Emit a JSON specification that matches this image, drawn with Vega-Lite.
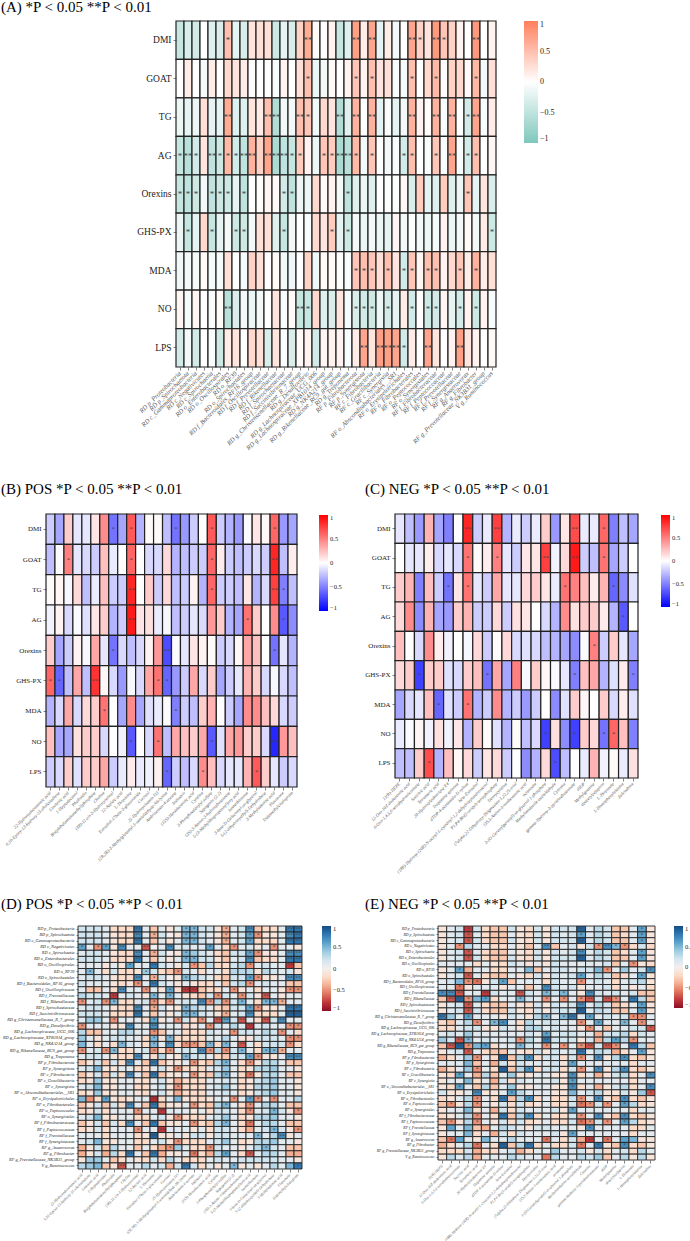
{"$schema":"https://vega.github.io/schema/vega-lite/v6.json","padding":0,"autosize":{"type":"pad"},"background":"white","spacing":0,"params":[{"name":"tax","value":["RD p_Proteobacteria","RD p_Spirochaetota","RD c_Gammaproteobacteria","RD c_Negativicutes","RD c_Spirochaetia","RD o_Enterobacterales","RD o_Oscillospirales","RD o_RF39","RD o_Spirochaetales","RD f_Bacteroidales_RF16_group","RD f_Oscillospiraceae","RD f_Prevotellaceae","RD f_Rikenellaceae","RD f_Spirochaetaceae","RD f_Succinivibrionaceae","RD g_Christensenellaceae_R_7_group","RD g_Desulfovibrio","RD g_Lachnospiraceae_UCG_006","RD g_Lachnospiraceae_XPB1014_group","RD g_NK4A214_group","RD g_Rikenellaceae_RC9_gut_group","RD g_Treponema","RF p_Fibrobacterota","RF p_Synergistota","RF c_Fibrobacteria","RF c_Gracilibacteria","RF c_Synergistia","RF o_Absconditabacteriales__SR1","RF o_Erysipelotrichales","RF o_Fibrobacterales","RF o_Peptococcales","RF o_Synergistales","RF f_Fibrobacteraceae","RF f_Peptococcaceae","RF f_Prevotellaceae","RF f_Synergistaceae","RF g_Anaerovorax","RF g_Fibrobacter","RF g_Prevotellaceae_NK3B31_group","V g_Ruminococcus"]},{"name":"idx","value":["DMI","GOAT","TG","AG","Orexins","GHS-PX","MDA","NO","LPS"]},{"name":"pos","value":["22-Hydroxydocosanoic acid","6,10-Epoxy-13-hydroxy-15-cholestadiene","Linolenic acid","1-Heptadecanol","Phalloidin","Bis(phthalamidomethyl)phosphate","Choline","(3R)-11-cis-3-Hydroxyretinal","12-Azelaic acid","L-Threonine","Estradiol-17beta-3-glucuronide","Cortisol","25-Hydroxyvitamin D3","(2R,3R)-3-Methylglutamyl-5-semialdehyde-N6-lysine","Ambrisentan-4-acetate","Indinavir","(15S)-Hexadecanoic acid","Cytidine","3-Phosphoadenylyl sulfate","Sapogenin (2:2)","(3S)-3-Amino-3-hydroxybutanoate","5-(3-Methylthiopropanoyl)oxy acid","Isomethionone","3-beta-D-Galactosyl-sn-glycerol","5-(2-dihydroxyethyl)-Dehydrobase","3-Methyladenine acid","Flavonone","Didemethylcitalopram"]},{"name":"neg","value":["11(R)-HEPE","12-Oxo-10Z-dodecenoic acid","6-Oxo-1,4,5,6-tetrahydronicotinate","Succinic acid","Tetrameric acid","20-Hydroxyleukotriene E4","Dopamine quinone","dTDP-4-acetamido-D-xylose","beta-Estradiol","(18R)-Hydroxy-(20R)-N-acetyl-L-cysteinyl-1,2-dehydroepiandrosterol","P1,P4-Bis(5-uridyl)-tetraphosphate","Deoxycytidine","(7alpha,22-Dihydroxy-)Stigmastan-1,22,25-triol","(3S,5-Amino-3-oxohexanoic acid","octanoate","3-(O-Geranylgeranyl)-sn-glycerol 1-phosphate","Methylimidazole-acetaldehyde","Cytosine","gamma-Hydroxy-3-pyridinebutanoate","dIDP","Methylguanine","deacetylcefapirin","L-Threonate","L-Homophenylalanine","Zalcitabine"]}],"config":{"font":"Liberation Serif","view":{"stroke":null},"axis":{"labelFont":"Liberation Serif","domain":false,"tickColor":"#333333","tickSize":3,"tickWidth":0.6,"labelColor":"#222222","title":null,"grid":false,"labelPadding":2,"labelOverlap":false,"labelSeparation":0},"title":{"font":"Liberation Serif","fontWeight":"normal","anchor":"start","color":"black","frame":"group","fontSize":15},"legend":{"labelFont":"Liberation Serif","orient":"none","title":null,"gradientStrokeWidth":0,"labelColor":"#222222","labelOffset":1,"labelOverlap":false},"rect":{"stroke":"#222222","strokeWidth":1.2},"text":{"color":"#444444"}},"datasets":{"a":[{"x":0,"y":0,"v":-0.45},{"x":1,"y":0,"v":-0.3},{"x":2,"y":0,"v":-0.35},{"x":3,"y":0,"v":0},{"x":4,"y":0,"v":-0.25},{"x":5,"y":0,"v":-0.3},{"x":6,"y":0,"v":0.5,"s":"*"},{"x":7,"y":0,"v":-0.2},{"x":8,"y":0,"v":-0.3},{"x":9,"y":0,"v":0.2},{"x":10,"y":0,"v":0.25},{"x":11,"y":0,"v":0.25},{"x":12,"y":0,"v":-0.4},{"x":13,"y":0,"v":-0.2},{"x":14,"y":0,"v":-0.3},{"x":15,"y":0,"v":0.35},{"x":16,"y":0,"v":0.65,"s":"**"},{"x":17,"y":0,"v":0.05},{"x":18,"y":0,"v":0.02},{"x":19,"y":0,"v":0.1},{"x":20,"y":0,"v":-0.45},{"x":21,"y":0,"v":-0.25},{"x":22,"y":0,"v":0.75,"s":"**"},{"x":23,"y":0,"v":0.15},{"x":24,"y":0,"v":0.7,"s":"**"},{"x":25,"y":0,"v":-0.2},{"x":26,"y":0,"v":0.15},{"x":27,"y":0,"v":-0.1},{"x":28,"y":0,"v":0},{"x":29,"y":0,"v":0.7,"s":"**"},{"x":30,"y":0,"v":0.35,"s":"*"},{"x":31,"y":0,"v":0.2},{"x":32,"y":0,"v":0.8,"s":"**"},{"x":33,"y":0,"v":0.45,"s":"*"},{"x":34,"y":0,"v":0.35},{"x":35,"y":0,"v":0.1},{"x":36,"y":0,"v":0},{"x":37,"y":0,"v":0.8,"s":"**"},{"x":38,"y":0,"v":0},{"x":39,"y":0,"v":0.1},{"x":0,"y":1,"v":0},{"x":1,"y":1,"v":0.15},{"x":2,"y":1,"v":0},{"x":3,"y":1,"v":-0.08},{"x":4,"y":1,"v":0.15},{"x":5,"y":1,"v":0},{"x":6,"y":1,"v":0.3},{"x":7,"y":1,"v":0.2},{"x":8,"y":1,"v":0.15},{"x":9,"y":1,"v":0.02},{"x":10,"y":1,"v":0},{"x":11,"y":1,"v":0.02},{"x":12,"y":1,"v":-0.05},{"x":13,"y":1,"v":0.1},{"x":14,"y":1,"v":0},{"x":15,"y":1,"v":0.25},{"x":16,"y":1,"v":0.5,"s":"*"},{"x":17,"y":1,"v":-0.15},{"x":18,"y":1,"v":-0.1},{"x":19,"y":1,"v":0.05},{"x":20,"y":1,"v":0},{"x":21,"y":1,"v":0.1},{"x":22,"y":1,"v":0.45,"s":"*"},{"x":23,"y":1,"v":0.1},{"x":24,"y":1,"v":0.5,"s":"*"},{"x":25,"y":1,"v":0.2},{"x":26,"y":1,"v":0.25},{"x":27,"y":1,"v":-0.05},{"x":28,"y":1,"v":-0.08},{"x":29,"y":1,"v":0.5,"s":"*"},{"x":30,"y":1,"v":0},{"x":31,"y":1,"v":0.3},{"x":32,"y":1,"v":0.55,"s":"*"},{"x":33,"y":1,"v":0.03},{"x":34,"y":1,"v":0.35},{"x":35,"y":1,"v":0.3},{"x":36,"y":1,"v":0.05},{"x":37,"y":1,"v":0.55,"s":"*"},{"x":38,"y":1,"v":-0.1},{"x":39,"y":1,"v":0.25},{"x":0,"y":2,"v":-0.15},{"x":1,"y":2,"v":-0.2},{"x":2,"y":2,"v":-0.15},{"x":3,"y":2,"v":0.25},{"x":4,"y":2,"v":-0.2},{"x":5,"y":2,"v":-0.2},{"x":6,"y":2,"v":0.65,"s":"**"},{"x":7,"y":2,"v":-0.25},{"x":8,"y":2,"v":-0.25},{"x":9,"y":2,"v":0.2},{"x":10,"y":2,"v":0.15},{"x":11,"y":2,"v":0.5,"s":"**"},{"x":12,"y":2,"v":-0.6,"s":"**"},{"x":13,"y":2,"v":-0.1},{"x":14,"y":2,"v":-0.1},{"x":15,"y":2,"v":0.5,"s":"**"},{"x":16,"y":2,"v":0.45,"s":"*"},{"x":17,"y":2,"v":-0.1},{"x":18,"y":2,"v":0.3},{"x":19,"y":2,"v":0.2},{"x":20,"y":2,"v":-0.6,"s":"**"},{"x":21,"y":2,"v":-0.25},{"x":22,"y":2,"v":0.6,"s":"**"},{"x":23,"y":2,"v":0},{"x":24,"y":2,"v":0.6,"s":"**"},{"x":25,"y":2,"v":-0.2},{"x":26,"y":2,"v":-0.05},{"x":27,"y":2,"v":-0.2},{"x":28,"y":2,"v":-0.1},{"x":29,"y":2,"v":0.6,"s":"**"},{"x":30,"y":2,"v":0.1},{"x":31,"y":2,"v":0.02},{"x":32,"y":2,"v":0.6,"s":"**"},{"x":33,"y":2,"v":-0.05},{"x":34,"y":2,"v":0.6,"s":"**"},{"x":35,"y":2,"v":0},{"x":36,"y":2,"v":-0.35,"s":"*"},{"x":37,"y":2,"v":0.7,"s":"**"},{"x":38,"y":2,"v":-0.05},{"x":39,"y":2,"v":0.15},{"x":0,"y":3,"v":-0.45,"s":"*"},{"x":1,"y":3,"v":-0.55,"s":"**"},{"x":2,"y":3,"v":-0.35,"s":"*"},{"x":3,"y":3,"v":0.2},{"x":4,"y":3,"v":-0.5,"s":"**"},{"x":5,"y":3,"v":-0.4,"s":"*"},{"x":6,"y":3,"v":0.55,"s":"*"},{"x":7,"y":3,"v":-0.35,"s":"*"},{"x":8,"y":3,"v":-0.5,"s":"**"},{"x":9,"y":3,"v":0.6,"s":"**"},{"x":10,"y":3,"v":0.35},{"x":11,"y":3,"v":0.7,"s":"**"},{"x":12,"y":3,"v":-0.65,"s":"**"},{"x":13,"y":3,"v":-0.5,"s":"**"},{"x":14,"y":3,"v":-0.45,"s":"*"},{"x":15,"y":3,"v":0.4,"s":"*"},{"x":16,"y":3,"v":0.1},{"x":17,"y":3,"v":-0.15},{"x":18,"y":3,"v":0.45,"s":"*"},{"x":19,"y":3,"v":0.4,"s":"*"},{"x":20,"y":3,"v":-0.65,"s":"**"},{"x":21,"y":3,"v":-0.55,"s":"**"},{"x":22,"y":3,"v":0.55,"s":"*"},{"x":23,"y":3,"v":-0.1},{"x":24,"y":3,"v":0.45,"s":"*"},{"x":25,"y":3,"v":0},{"x":26,"y":3,"v":-0.1},{"x":27,"y":3,"v":-0.05},{"x":28,"y":3,"v":-0.35,"s":"*"},{"x":29,"y":3,"v":0.5,"s":"*"},{"x":30,"y":3,"v":0},{"x":31,"y":3,"v":-0.05},{"x":32,"y":3,"v":0.45,"s":"*"},{"x":33,"y":3,"v":-0.05},{"x":34,"y":3,"v":0.7,"s":"**"},{"x":35,"y":3,"v":-0.05},{"x":36,"y":3,"v":-0.35,"s":"*"},{"x":37,"y":3,"v":0.5,"s":"*"},{"x":38,"y":3,"v":0},{"x":39,"y":3,"v":0.08},{"x":0,"y":4,"v":-0.45,"s":"*"},{"x":1,"y":4,"v":-0.5,"s":"*"},{"x":2,"y":4,"v":-0.4,"s":"*"},{"x":3,"y":4,"v":-0.1},{"x":4,"y":4,"v":-0.5,"s":"*"},{"x":5,"y":4,"v":-0.4,"s":"*"},{"x":6,"y":4,"v":-0.4,"s":"*"},{"x":7,"y":4,"v":-0.2},{"x":8,"y":4,"v":-0.5,"s":"*"},{"x":9,"y":4,"v":0},{"x":10,"y":4,"v":0.02},{"x":11,"y":4,"v":0.08},{"x":12,"y":4,"v":0.05},{"x":13,"y":4,"v":-0.35,"s":"*"},{"x":14,"y":4,"v":-0.5,"s":"*"},{"x":15,"y":4,"v":-0.15},{"x":16,"y":4,"v":-0.15},{"x":17,"y":4,"v":0.3},{"x":18,"y":4,"v":0.05},{"x":19,"y":4,"v":0.1},{"x":20,"y":4,"v":-0.1},{"x":21,"y":4,"v":-0.5,"s":"*"},{"x":22,"y":4,"v":-0.25},{"x":23,"y":4,"v":-0.15},{"x":24,"y":4,"v":-0.25},{"x":25,"y":4,"v":0},{"x":26,"y":4,"v":-0.02},{"x":27,"y":4,"v":-0.02},{"x":28,"y":4,"v":0.06},{"x":29,"y":4,"v":-0.3},{"x":30,"y":4,"v":0.4},{"x":31,"y":4,"v":-0.2},{"x":32,"y":4,"v":-0.25},{"x":33,"y":4,"v":0.4},{"x":34,"y":4,"v":-0.25},{"x":35,"y":4,"v":-0.15},{"x":36,"y":4,"v":0.45,"s":"*"},{"x":37,"y":4,"v":-0.2},{"x":38,"y":4,"v":0.2},{"x":39,"y":4,"v":-0.3},{"x":0,"y":5,"v":-0.15},{"x":1,"y":5,"v":-0.45,"s":"*"},{"x":2,"y":5,"v":-0.2},{"x":3,"y":5,"v":0.3},{"x":4,"y":5,"v":-0.45,"s":"*"},{"x":5,"y":5,"v":-0.2},{"x":6,"y":5,"v":-0.1},{"x":7,"y":5,"v":-0.4,"s":"*"},{"x":8,"y":5,"v":-0.4,"s":"*"},{"x":9,"y":5,"v":-0.1},{"x":10,"y":5,"v":0.25},{"x":11,"y":5,"v":0.25},{"x":12,"y":5,"v":-0.25},{"x":13,"y":5,"v":-0.45,"s":"*"},{"x":14,"y":5,"v":-0.1},{"x":15,"y":5,"v":0},{"x":16,"y":5,"v":-0.05},{"x":17,"y":5,"v":0.3},{"x":18,"y":5,"v":0.2},{"x":19,"y":5,"v":0.4,"s":"*"},{"x":20,"y":5,"v":-0.2},{"x":21,"y":5,"v":-0.4,"s":"*"},{"x":22,"y":5,"v":-0.1},{"x":23,"y":5,"v":-0.15},{"x":24,"y":5,"v":-0.1},{"x":25,"y":5,"v":-0.15},{"x":26,"y":5,"v":-0.2},{"x":27,"y":5,"v":0.08},{"x":28,"y":5,"v":-0.1},{"x":29,"y":5,"v":-0.02},{"x":30,"y":5,"v":-0.1},{"x":31,"y":5,"v":-0.15},{"x":32,"y":5,"v":-0.08},{"x":33,"y":5,"v":0.1},{"x":34,"y":5,"v":-0.15},{"x":35,"y":5,"v":-0.1},{"x":36,"y":5,"v":0.05},{"x":37,"y":5,"v":-0.1},{"x":38,"y":5,"v":0.15},{"x":39,"y":5,"v":-0.4,"s":"*"},{"x":0,"y":6,"v":-0.12},{"x":1,"y":6,"v":-0.1},{"x":2,"y":6,"v":-0.08},{"x":3,"y":6,"v":0.05},{"x":4,"y":6,"v":-0.08},{"x":5,"y":6,"v":-0.08},{"x":6,"y":6,"v":0.25},{"x":7,"y":6,"v":0},{"x":8,"y":6,"v":-0.08},{"x":9,"y":6,"v":0.35},{"x":10,"y":6,"v":0.25},{"x":11,"y":6,"v":0.02},{"x":12,"y":6,"v":0.05},{"x":13,"y":6,"v":-0.1},{"x":14,"y":6,"v":-0.12},{"x":15,"y":6,"v":0},{"x":16,"y":6,"v":0.35},{"x":17,"y":6,"v":-0.12},{"x":18,"y":6,"v":0.04},{"x":19,"y":6,"v":0.04},{"x":20,"y":6,"v":0.02},{"x":21,"y":6,"v":-0.05},{"x":22,"y":6,"v":0.45,"s":"*"},{"x":23,"y":6,"v":0.5,"s":"*"},{"x":24,"y":6,"v":0.45,"s":"*"},{"x":25,"y":6,"v":0.25},{"x":26,"y":6,"v":0.5,"s":"*"},{"x":27,"y":6,"v":0.2},{"x":28,"y":6,"v":-0.35,"s":"*"},{"x":29,"y":6,"v":0.45,"s":"*"},{"x":30,"y":6,"v":0.08},{"x":31,"y":6,"v":0.5,"s":"*"},{"x":32,"y":6,"v":0.5,"s":"*"},{"x":33,"y":6,"v":0.1},{"x":34,"y":6,"v":0.3},{"x":35,"y":6,"v":0.45,"s":"*"},{"x":36,"y":6,"v":0.15},{"x":37,"y":6,"v":0.6,"s":"*"},{"x":38,"y":6,"v":0.15},{"x":39,"y":6,"v":0.25},{"x":0,"y":7,"v":0.08},{"x":1,"y":7,"v":-0.08},{"x":2,"y":7,"v":0.08},{"x":3,"y":7,"v":0},{"x":4,"y":7,"v":-0.05},{"x":5,"y":7,"v":0.05},{"x":6,"y":7,"v":-0.55,"s":"**"},{"x":7,"y":7,"v":-0.3},{"x":8,"y":7,"v":-0.1},{"x":9,"y":7,"v":-0.15},{"x":10,"y":7,"v":-0.1},{"x":11,"y":7,"v":0},{"x":12,"y":7,"v":0.2},{"x":13,"y":7,"v":-0.05},{"x":14,"y":7,"v":0.05},{"x":15,"y":7,"v":-0.45,"s":"**"},{"x":16,"y":7,"v":-0.45,"s":"*"},{"x":17,"y":7,"v":0.3},{"x":18,"y":7,"v":-0.25},{"x":19,"y":7,"v":-0.3},{"x":20,"y":7,"v":0.2},{"x":21,"y":7,"v":-0.08},{"x":22,"y":7,"v":-0.3,"s":"*"},{"x":23,"y":7,"v":-0.35,"s":"*"},{"x":24,"y":7,"v":-0.4,"s":"*"},{"x":25,"y":7,"v":-0.15},{"x":26,"y":7,"v":-0.35,"s":"*"},{"x":27,"y":7,"v":-0.2},{"x":28,"y":7,"v":0.15},{"x":29,"y":7,"v":-0.35,"s":"*"},{"x":30,"y":7,"v":0.02},{"x":31,"y":7,"v":-0.4,"s":"*"},{"x":32,"y":7,"v":-0.35,"s":"*"},{"x":33,"y":7,"v":0.08},{"x":34,"y":7,"v":-0.2},{"x":35,"y":7,"v":-0.35,"s":"*"},{"x":36,"y":7,"v":0.1},{"x":37,"y":7,"v":-0.4,"s":"*"},{"x":38,"y":7,"v":0.1},{"x":39,"y":7,"v":-0.05},{"x":0,"y":8,"v":-0.35},{"x":1,"y":8,"v":-0.1},{"x":2,"y":8,"v":-0.35},{"x":3,"y":8,"v":0},{"x":4,"y":8,"v":-0.05},{"x":5,"y":8,"v":-0.4},{"x":6,"y":8,"v":0.15},{"x":7,"y":8,"v":0.2},{"x":8,"y":8,"v":0.02},{"x":9,"y":8,"v":0.3},{"x":10,"y":8,"v":0.25},{"x":11,"y":8,"v":-0.3},{"x":12,"y":8,"v":0.2},{"x":13,"y":8,"v":-0.05},{"x":14,"y":8,"v":-0.3},{"x":15,"y":8,"v":0.05},{"x":16,"y":8,"v":0.1},{"x":17,"y":8,"v":-0.35},{"x":18,"y":8,"v":0.08},{"x":19,"y":8,"v":0.1},{"x":20,"y":8,"v":0.1},{"x":21,"y":8,"v":-0.05},{"x":22,"y":8,"v":0.15},{"x":23,"y":8,"v":0.7,"s":"**"},{"x":24,"y":8,"v":0.2},{"x":25,"y":8,"v":0.75,"s":"**"},{"x":26,"y":8,"v":0.75,"s":"**"},{"x":27,"y":8,"v":0.7,"s":"**"},{"x":28,"y":8,"v":-0.35,"s":"*"},{"x":29,"y":8,"v":0.15},{"x":30,"y":8,"v":0},{"x":31,"y":8,"v":0.7,"s":"**"},{"x":32,"y":8,"v":0.2},{"x":33,"y":8,"v":0},{"x":34,"y":8,"v":0.1},{"x":35,"y":8,"v":0.75,"s":"**"},{"x":36,"y":8,"v":0.2},{"x":37,"y":8,"v":0.1},{"x":38,"y":8,"v":0},{"x":39,"y":8,"v":0.04}],"b":[{"x":0,"y":0,"v":-0.2},{"x":1,"y":0,"v":-0.35},{"x":2,"y":0,"v":0.2},{"x":3,"y":0,"v":-0.1},{"x":4,"y":0,"v":-0.1},{"x":5,"y":0,"v":0.1},{"x":6,"y":0,"v":0.45},{"x":7,"y":0,"v":-0.55,"s":"*"},{"x":8,"y":0,"v":-0.35},{"x":9,"y":0,"v":0.65,"s":"*"},{"x":10,"y":0,"v":-0.3},{"x":11,"y":0,"v":0.02},{"x":12,"y":0,"v":0.02},{"x":13,"y":0,"v":-0.25},{"x":14,"y":0,"v":-0.55,"s":"*"},{"x":15,"y":0,"v":-0.4},{"x":16,"y":0,"v":-0.2},{"x":17,"y":0,"v":0},{"x":18,"y":0,"v":0.65,"s":"*"},{"x":19,"y":0,"v":-0.2},{"x":20,"y":0,"v":-0.3},{"x":21,"y":0,"v":-0.4},{"x":22,"y":0,"v":-0.02},{"x":23,"y":0,"v":0.1},{"x":24,"y":0,"v":0.03},{"x":25,"y":0,"v":0.6,"s":"*"},{"x":26,"y":0,"v":-0.4},{"x":27,"y":0,"v":-0.35},{"x":0,"y":1,"v":-0.25},{"x":1,"y":1,"v":-0.02},{"x":2,"y":1,"v":0.5,"s":"*"},{"x":3,"y":1,"v":-0.1},{"x":4,"y":1,"v":-0.15},{"x":5,"y":1,"v":-0.2},{"x":6,"y":1,"v":0.25},{"x":7,"y":1,"v":-0.08},{"x":8,"y":1,"v":0},{"x":9,"y":1,"v":0.6,"s":"*"},{"x":10,"y":1,"v":0},{"x":11,"y":1,"v":-0.15},{"x":12,"y":1,"v":-0.15},{"x":13,"y":1,"v":0.15},{"x":14,"y":1,"v":-0.3},{"x":15,"y":1,"v":-0.25},{"x":16,"y":1,"v":-0.2},{"x":17,"y":1,"v":-0.2},{"x":18,"y":1,"v":0.6,"s":"*"},{"x":19,"y":1,"v":0.08},{"x":20,"y":1,"v":-0.2},{"x":21,"y":1,"v":-0.25},{"x":22,"y":1,"v":-0.2},{"x":23,"y":1,"v":-0.15},{"x":24,"y":1,"v":-0.2},{"x":25,"y":1,"v":0.85,"s":"**"},{"x":26,"y":1,"v":-0.25},{"x":27,"y":1,"v":0.07},{"x":0,"y":2,"v":0.02},{"x":1,"y":2,"v":0.04},{"x":2,"y":2,"v":-0.03},{"x":3,"y":2,"v":0.15},{"x":4,"y":2,"v":-0.25},{"x":5,"y":2,"v":-0.08},{"x":6,"y":2,"v":0.25},{"x":7,"y":2,"v":-0.2},{"x":8,"y":2,"v":-0.2},{"x":9,"y":2,"v":0.85,"s":"**"},{"x":10,"y":2,"v":0},{"x":11,"y":2,"v":0.2},{"x":12,"y":2,"v":-0.2},{"x":13,"y":2,"v":0.15},{"x":14,"y":2,"v":-0.25},{"x":15,"y":2,"v":-0.2},{"x":16,"y":2,"v":0.05},{"x":17,"y":2,"v":-0.3},{"x":18,"y":2,"v":0.6,"s":"*"},{"x":19,"y":2,"v":-0.2},{"x":20,"y":2,"v":-0.2},{"x":21,"y":2,"v":-0.25},{"x":22,"y":2,"v":0.1},{"x":23,"y":2,"v":-0.3},{"x":24,"y":2,"v":-0.15},{"x":25,"y":2,"v":0.75,"s":"**"},{"x":26,"y":2,"v":-0.5,"s":"*"},{"x":27,"y":2,"v":-0.25},{"x":0,"y":3,"v":-0.05},{"x":1,"y":3,"v":0.05},{"x":2,"y":3,"v":-0.15},{"x":3,"y":3,"v":-0.02},{"x":4,"y":3,"v":-0.12},{"x":5,"y":3,"v":0.1},{"x":6,"y":3,"v":0.2},{"x":7,"y":3,"v":-0.3},{"x":8,"y":3,"v":-0.2},{"x":9,"y":3,"v":0.9,"s":"**"},{"x":10,"y":3,"v":0.1},{"x":11,"y":3,"v":0.12},{"x":12,"y":3,"v":-0.08},{"x":13,"y":3,"v":-0.03},{"x":14,"y":3,"v":-0.25},{"x":15,"y":3,"v":-0.2},{"x":16,"y":3,"v":-0.1},{"x":17,"y":3,"v":-0.15},{"x":18,"y":3,"v":0.4},{"x":19,"y":3,"v":0.2},{"x":20,"y":3,"v":-0.3},{"x":21,"y":3,"v":-0.35},{"x":22,"y":3,"v":0.55,"s":"*"},{"x":23,"y":3,"v":0.2},{"x":24,"y":3,"v":0},{"x":25,"y":3,"v":0.45},{"x":26,"y":3,"v":-0.65,"s":"*"},{"x":27,"y":3,"v":-0.45},{"x":0,"y":4,"v":0.2},{"x":1,"y":4,"v":-0.35},{"x":2,"y":4,"v":-0.2},{"x":3,"y":4,"v":0.05},{"x":4,"y":4,"v":-0.03},{"x":5,"y":4,"v":0.35},{"x":6,"y":4,"v":-0.1},{"x":7,"y":4,"v":-0.55,"s":"*"},{"x":8,"y":4,"v":-0.15},{"x":9,"y":4,"v":-0.25},{"x":10,"y":4,"v":-0.15},{"x":11,"y":4,"v":0.05},{"x":12,"y":4,"v":0.4},{"x":13,"y":4,"v":-0.7,"s":"**"},{"x":14,"y":4,"v":-0.02},{"x":15,"y":4,"v":-0.1},{"x":16,"y":4,"v":0.1},{"x":17,"y":4,"v":0.05},{"x":18,"y":4,"v":0.02},{"x":19,"y":4,"v":-0.2},{"x":20,"y":4,"v":-0.15},{"x":21,"y":4,"v":0.03},{"x":22,"y":4,"v":0.35},{"x":23,"y":4,"v":0.25},{"x":24,"y":4,"v":0},{"x":25,"y":4,"v":-0.55,"s":"*"},{"x":26,"y":4,"v":-0.1},{"x":27,"y":4,"v":-0.3},{"x":0,"y":5,"v":0.6,"s":"*"},{"x":1,"y":5,"v":-0.6,"s":"*"},{"x":2,"y":5,"v":-0.25},{"x":3,"y":5,"v":0.35},{"x":4,"y":5,"v":-0.25},{"x":5,"y":5,"v":0.8,"s":"**"},{"x":6,"y":5,"v":0.03},{"x":7,"y":5,"v":-0.15},{"x":8,"y":5,"v":-0.4},{"x":9,"y":5,"v":-0.03},{"x":10,"y":5,"v":-0.15},{"x":11,"y":5,"v":0.35},{"x":12,"y":5,"v":0.55,"s":"*"},{"x":13,"y":5,"v":-0.6,"s":"*"},{"x":14,"y":5,"v":-0.4},{"x":15,"y":5,"v":-0.2},{"x":16,"y":5,"v":0.35},{"x":17,"y":5,"v":-0.15},{"x":18,"y":5,"v":0.2},{"x":19,"y":5,"v":-0.35},{"x":20,"y":5,"v":-0.2},{"x":21,"y":5,"v":-0.1},{"x":22,"y":5,"v":0.3},{"x":23,"y":5,"v":0.2},{"x":24,"y":5,"v":-0.15},{"x":25,"y":5,"v":-0.03},{"x":26,"y":5,"v":-0.15},{"x":27,"y":5,"v":-0.25},{"x":0,"y":6,"v":-0.3},{"x":1,"y":6,"v":-0.15},{"x":2,"y":6,"v":0.35},{"x":3,"y":6,"v":-0.15},{"x":4,"y":6,"v":0.15},{"x":5,"y":6,"v":0.2},{"x":6,"y":6,"v":0.55,"s":"*"},{"x":7,"y":6,"v":0},{"x":8,"y":6,"v":-0.35},{"x":9,"y":6,"v":0.45},{"x":10,"y":6,"v":-0.35},{"x":11,"y":6,"v":-0.12},{"x":12,"y":6,"v":-0.08},{"x":13,"y":6,"v":-0.02},{"x":14,"y":6,"v":-0.5,"s":"*"},{"x":15,"y":6,"v":-0.2},{"x":16,"y":6,"v":-0.25},{"x":17,"y":6,"v":0.2},{"x":18,"y":6,"v":0.3},{"x":19,"y":6,"v":0},{"x":20,"y":6,"v":-0.2},{"x":21,"y":6,"v":-0.35},{"x":22,"y":6,"v":0.45},{"x":23,"y":6,"v":0.45},{"x":24,"y":6,"v":0.25},{"x":25,"y":6,"v":0.15},{"x":26,"y":6,"v":-0.15},{"x":27,"y":6,"v":-0.2},{"x":0,"y":7,"v":0.25},{"x":1,"y":7,"v":-0.35},{"x":2,"y":7,"v":-0.35},{"x":3,"y":7,"v":0.12},{"x":4,"y":7,"v":0.2},{"x":5,"y":7,"v":0.2},{"x":6,"y":7,"v":-0.15},{"x":7,"y":7,"v":0},{"x":8,"y":7,"v":-0.05},{"x":9,"y":7,"v":-0.65,"s":"*"},{"x":10,"y":7,"v":0},{"x":11,"y":7,"v":-0.15},{"x":12,"y":7,"v":0.55,"s":"*"},{"x":13,"y":7,"v":-0.25},{"x":14,"y":7,"v":0.35},{"x":15,"y":7,"v":0.25},{"x":16,"y":7,"v":0.2},{"x":17,"y":7,"v":0.35},{"x":18,"y":7,"v":-0.65,"s":"*"},{"x":19,"y":7,"v":-0.12},{"x":20,"y":7,"v":0.35},{"x":21,"y":7,"v":0.4},{"x":22,"y":7,"v":0.2},{"x":23,"y":7,"v":0.2},{"x":24,"y":7,"v":-0.15},{"x":25,"y":7,"v":-0.85,"s":"**"},{"x":26,"y":7,"v":0.4},{"x":27,"y":7,"v":0.25},{"x":0,"y":8,"v":-0.2},{"x":1,"y":8,"v":-0.15},{"x":2,"y":8,"v":0.2},{"x":3,"y":8,"v":-0.12},{"x":4,"y":8,"v":0.2},{"x":5,"y":8,"v":0.2},{"x":6,"y":8,"v":0.35},{"x":7,"y":8,"v":-0.2},{"x":8,"y":8,"v":-0.08},{"x":9,"y":8,"v":0.08},{"x":10,"y":8,"v":-0.08},{"x":11,"y":8,"v":-0.05},{"x":12,"y":8,"v":0.06},{"x":13,"y":8,"v":-0.6,"s":"*"},{"x":14,"y":8,"v":-0.2},{"x":15,"y":8,"v":-0.25},{"x":16,"y":8,"v":-0.15},{"x":17,"y":8,"v":0.45,"s":"*"},{"x":18,"y":8,"v":0.25},{"x":19,"y":8,"v":-0.15},{"x":20,"y":8,"v":-0.1},{"x":21,"y":8,"v":-0.1},{"x":22,"y":8,"v":0.3},{"x":23,"y":8,"v":0.65,"s":"*"},{"x":24,"y":8,"v":0.2},{"x":25,"y":8,"v":-0.1},{"x":26,"y":8,"v":-0.2},{"x":27,"y":8,"v":-0.15}],"c":[{"x":0,"y":0,"v":-0.1},{"x":1,"y":0,"v":-0.25},{"x":2,"y":0,"v":-0.4},{"x":3,"y":0,"v":0.3},{"x":4,"y":0,"v":-0.35},{"x":5,"y":0,"v":-0.5},{"x":6,"y":0,"v":0},{"x":7,"y":0,"v":0.85,"s":"**"},{"x":8,"y":0,"v":-0.2},{"x":9,"y":0,"v":-0.08},{"x":10,"y":0,"v":0.75,"s":"**"},{"x":11,"y":0,"v":-0.3},{"x":12,"y":0,"v":-0.08},{"x":13,"y":0,"v":-0.2},{"x":14,"y":0,"v":-0.08},{"x":15,"y":0,"v":0.2},{"x":16,"y":0,"v":-0.4},{"x":17,"y":0,"v":0.1},{"x":18,"y":0,"v":0.7,"s":"**"},{"x":19,"y":0,"v":-0.08},{"x":20,"y":0,"v":-0.08},{"x":21,"y":0,"v":0.6,"s":"*"},{"x":22,"y":0,"v":-0.5},{"x":23,"y":0,"v":-0.25},{"x":24,"y":0,"v":-0.35},{"x":0,"y":1,"v":0},{"x":1,"y":1,"v":-0.1},{"x":2,"y":1,"v":-0.1},{"x":3,"y":1,"v":0.07},{"x":4,"y":1,"v":-0.15},{"x":5,"y":1,"v":-0.1},{"x":6,"y":1,"v":-0.15},{"x":7,"y":1,"v":0.55,"s":"*"},{"x":8,"y":1,"v":0.02},{"x":9,"y":1,"v":0.07},{"x":10,"y":1,"v":0.5,"s":"*"},{"x":11,"y":1,"v":-0.1},{"x":12,"y":1,"v":-0.2},{"x":13,"y":1,"v":0.1},{"x":14,"y":1,"v":0.1},{"x":15,"y":1,"v":0.75,"s":"**"},{"x":16,"y":1,"v":-0.05},{"x":17,"y":1,"v":0.15},{"x":18,"y":1,"v":0.9,"s":"**"},{"x":19,"y":1,"v":-0.2},{"x":20,"y":1,"v":-0.25},{"x":21,"y":1,"v":0.55,"s":"*"},{"x":22,"y":1,"v":-0.35},{"x":23,"y":1,"v":-0.2},{"x":24,"y":1,"v":0},{"x":0,"y":2,"v":0.2},{"x":1,"y":2,"v":0.3},{"x":2,"y":2,"v":-0.5},{"x":3,"y":2,"v":0.25},{"x":4,"y":2,"v":-0.2},{"x":5,"y":2,"v":-0.55,"s":"*"},{"x":6,"y":2,"v":0.1},{"x":7,"y":2,"v":0.55,"s":"*"},{"x":8,"y":2,"v":-0.1},{"x":9,"y":2,"v":-0.2},{"x":10,"y":2,"v":0.35},{"x":11,"y":2,"v":-0.1},{"x":12,"y":2,"v":-0.1},{"x":13,"y":2,"v":0.15},{"x":14,"y":2,"v":0.2},{"x":15,"y":2,"v":0.1},{"x":16,"y":2,"v":-0.08},{"x":17,"y":2,"v":0.55,"s":"*"},{"x":18,"y":2,"v":0.5},{"x":19,"y":2,"v":0.25},{"x":20,"y":2,"v":0.08},{"x":21,"y":2,"v":0.3},{"x":22,"y":2,"v":-0.6,"s":"*"},{"x":23,"y":2,"v":-0.45},{"x":24,"y":2,"v":-0.12},{"x":0,"y":3,"v":0.15},{"x":1,"y":3,"v":0.45},{"x":2,"y":3,"v":-0.45},{"x":3,"y":3,"v":0.3},{"x":4,"y":3,"v":-0.35},{"x":5,"y":3,"v":-0.4},{"x":6,"y":3,"v":0.2},{"x":7,"y":3,"v":0.3},{"x":8,"y":3,"v":-0.2},{"x":9,"y":3,"v":-0.2},{"x":10,"y":3,"v":0.15},{"x":11,"y":3,"v":-0.2},{"x":12,"y":3,"v":0.12},{"x":13,"y":3,"v":0.1},{"x":14,"y":3,"v":0},{"x":15,"y":3,"v":-0.15},{"x":16,"y":3,"v":-0.3},{"x":17,"y":3,"v":0.45},{"x":18,"y":3,"v":0.12},{"x":19,"y":3,"v":0.2},{"x":20,"y":3,"v":0.2},{"x":21,"y":3,"v":0.08},{"x":22,"y":3,"v":-0.3},{"x":23,"y":3,"v":-0.65,"s":"*"},{"x":24,"y":3,"v":0},{"x":0,"y":4,"v":0.25},{"x":1,"y":4,"v":0},{"x":2,"y":4,"v":-0.15},{"x":3,"y":4,"v":0.45},{"x":4,"y":4,"v":0.07},{"x":5,"y":4,"v":-0.05},{"x":6,"y":4,"v":0},{"x":7,"y":4,"v":-0.03},{"x":8,"y":4,"v":0.15},{"x":9,"y":4,"v":-0.2},{"x":10,"y":4,"v":0.02},{"x":11,"y":4,"v":0.15},{"x":12,"y":4,"v":-0.15},{"x":13,"y":4,"v":-0.12},{"x":14,"y":4,"v":-0.15},{"x":15,"y":4,"v":-0.25},{"x":16,"y":4,"v":-0.3},{"x":17,"y":4,"v":-0.35},{"x":18,"y":4,"v":-0.45},{"x":19,"y":4,"v":-0.02},{"x":20,"y":4,"v":0.5,"s":"*"},{"x":21,"y":4,"v":-0.2},{"x":22,"y":4,"v":0.2},{"x":23,"y":4,"v":-0.1},{"x":24,"y":4,"v":-0.35},{"x":0,"y":5,"v":0.15},{"x":1,"y":5,"v":0.2},{"x":2,"y":5,"v":-0.75,"s":"*"},{"x":3,"y":5,"v":0.2},{"x":4,"y":5,"v":0.2},{"x":5,"y":5,"v":-0.12},{"x":6,"y":5,"v":-0.15},{"x":7,"y":5,"v":0.2},{"x":8,"y":5,"v":0.25},{"x":9,"y":5,"v":-0.55,"s":"*"},{"x":10,"y":5,"v":0.35},{"x":11,"y":5,"v":-0.35},{"x":12,"y":5,"v":0.5},{"x":13,"y":5,"v":-0.03},{"x":14,"y":5,"v":0.2},{"x":15,"y":5,"v":0.03},{"x":16,"y":5,"v":-0.02},{"x":17,"y":5,"v":-0.1},{"x":18,"y":5,"v":-0.5,"s":"*"},{"x":19,"y":5,"v":0.25},{"x":20,"y":5,"v":0.35},{"x":21,"y":5,"v":-0.3},{"x":22,"y":5,"v":-0.12},{"x":23,"y":5,"v":0.08},{"x":24,"y":5,"v":-0.5,"s":"*"},{"x":0,"y":6,"v":-0.35},{"x":1,"y":6,"v":-0.15},{"x":2,"y":6,"v":-0.1},{"x":3,"y":6,"v":0.25},{"x":4,"y":6,"v":-0.6,"s":"*"},{"x":5,"y":6,"v":-0.12},{"x":6,"y":6,"v":-0.2},{"x":7,"y":6,"v":0.55,"s":"*"},{"x":8,"y":6,"v":-0.3},{"x":9,"y":6,"v":-0.2},{"x":10,"y":6,"v":0.45},{"x":11,"y":6,"v":-0.3},{"x":12,"y":6,"v":-0.2},{"x":13,"y":6,"v":-0.4},{"x":14,"y":6,"v":-0.2},{"x":15,"y":6,"v":0},{"x":16,"y":6,"v":-0.45},{"x":17,"y":6,"v":-0.12},{"x":18,"y":6,"v":0.2},{"x":19,"y":6,"v":0.03},{"x":20,"y":6,"v":0},{"x":21,"y":6,"v":0.2},{"x":22,"y":6,"v":-0.15},{"x":23,"y":6,"v":0.07},{"x":24,"y":6,"v":-0.12},{"x":0,"y":7,"v":-0.08},{"x":1,"y":7,"v":-0.02},{"x":2,"y":7,"v":0.04},{"x":3,"y":7,"v":-0.05},{"x":4,"y":7,"v":0.12},{"x":5,"y":7,"v":-0.05},{"x":6,"y":7,"v":0.1},{"x":7,"y":7,"v":-0.3},{"x":8,"y":7,"v":0.2},{"x":9,"y":7,"v":0.02},{"x":10,"y":7,"v":-0.12},{"x":11,"y":7,"v":-0.3},{"x":12,"y":7,"v":0.02},{"x":13,"y":7,"v":-0.25},{"x":14,"y":7,"v":-0.15},{"x":15,"y":7,"v":-0.75,"s":"*"},{"x":16,"y":7,"v":0.12},{"x":17,"y":7,"v":-0.45},{"x":18,"y":7,"v":-0.75,"s":"*"},{"x":19,"y":7,"v":0.2},{"x":20,"y":7,"v":0.15},{"x":21,"y":7,"v":-0.55,"s":"*"},{"x":22,"y":7,"v":0.6,"s":"*"},{"x":23,"y":7,"v":0.25},{"x":24,"y":7,"v":-0.5},{"x":0,"y":8,"v":-0.25},{"x":1,"y":8,"v":-0.25},{"x":2,"y":8,"v":0.2},{"x":3,"y":8,"v":0.7,"s":"*"},{"x":4,"y":8,"v":-0.3},{"x":5,"y":8,"v":0.25},{"x":6,"y":8,"v":0.03},{"x":7,"y":8,"v":0.15},{"x":8,"y":8,"v":-0.2},{"x":9,"y":8,"v":0.1},{"x":10,"y":8,"v":0.15},{"x":11,"y":8,"v":-0.2},{"x":12,"y":8,"v":0},{"x":13,"y":8,"v":-0.45},{"x":14,"y":8,"v":-0.3},{"x":15,"y":8,"v":0.15},{"x":16,"y":8,"v":-0.7,"s":"*"},{"x":17,"y":8,"v":-0.25},{"x":18,"y":8,"v":0},{"x":19,"y":8,"v":-0.08},{"x":20,"y":8,"v":0.3},{"x":21,"y":8,"v":-0.05},{"x":22,"y":8,"v":0.02},{"x":23,"y":8,"v":-0.08},{"x":24,"y":8,"v":0.12}],"d":[{"x":0,"y":0,"v":0.2},{"x":1,"y":0,"v":0.2},{"x":2,"y":0,"v":0.2},{"x":3,"y":0,"v":0.1},{"x":4,"y":0,"v":-0.2},{"x":5,"y":0,"v":-0.2},{"x":6,"y":0,"v":-0.2},{"x":7,"y":0,"v":0.8,"s":"**"},{"x":8,"y":0,"v":0.1},{"x":9,"y":0,"v":-0.3},{"x":10,"y":0,"v":0.1},{"x":11,"y":0,"v":-0.1},{"x":12,"y":0,"v":0.1},{"x":13,"y":0,"v":0.5,"s":"*"},{"x":14,"y":0,"v":0.5,"s":"*"},{"x":15,"y":0,"v":0.2},{"x":16,"y":0,"v":0.2},{"x":17,"y":0,"v":-0.1},{"x":18,"y":0,"v":-0.4,"s":"*"},{"x":19,"y":0,"v":0.1},{"x":20,"y":0,"v":0.2},{"x":21,"y":0,"v":0.7,"s":"**"},{"x":22,"y":0,"v":-0.3},{"x":23,"y":0,"v":-0.2},{"x":24,"y":0,"v":-0.2},{"x":25,"y":0,"v":0.1},{"x":26,"y":0,"v":0.8,"s":"**"},{"x":27,"y":0,"v":0.8,"s":"**"},{"x":0,"y":1,"v":0.2},{"x":1,"y":1,"v":0.2},{"x":2,"y":1,"v":0.2},{"x":3,"y":1,"v":0.1},{"x":4,"y":1,"v":-0.1},{"x":5,"y":1,"v":-0.2},{"x":6,"y":1,"v":-0.2},{"x":7,"y":1,"v":0.7,"s":"**"},{"x":8,"y":1,"v":0.1},{"x":9,"y":1,"v":-0.4,"s":"*"},{"x":10,"y":1,"v":0.2},{"x":11,"y":1,"v":0},{"x":12,"y":1,"v":-0.1},{"x":13,"y":1,"v":0.5,"s":"*"},{"x":14,"y":1,"v":0.5,"s":"*"},{"x":15,"y":1,"v":0.2},{"x":16,"y":1,"v":0.1},{"x":17,"y":1,"v":-0.1},{"x":18,"y":1,"v":-0.4,"s":"*"},{"x":19,"y":1,"v":0.1},{"x":20,"y":1,"v":0.2},{"x":21,"y":1,"v":0.6,"s":"*"},{"x":22,"y":1,"v":-0.5,"s":"*"},{"x":23,"y":1,"v":-0.1},{"x":24,"y":1,"v":-0.1},{"x":25,"y":1,"v":0.1},{"x":26,"y":1,"v":0.7,"s":"**"},{"x":27,"y":1,"v":0.8,"s":"**"},{"x":0,"y":2,"v":0.2},{"x":1,"y":2,"v":0.2},{"x":2,"y":2,"v":0.2},{"x":3,"y":2,"v":0.1},{"x":4,"y":2,"v":-0.1},{"x":5,"y":2,"v":-0.2},{"x":6,"y":2,"v":-0.2},{"x":7,"y":2,"v":0.8,"s":"**"},{"x":8,"y":2,"v":0.1},{"x":9,"y":2,"v":-0.3},{"x":10,"y":2,"v":0.1},{"x":11,"y":2,"v":-0.1},{"x":12,"y":2,"v":0.1},{"x":13,"y":2,"v":0.5,"s":"*"},{"x":14,"y":2,"v":0.5,"s":"*"},{"x":15,"y":2,"v":0.2},{"x":16,"y":2,"v":0.1},{"x":17,"y":2,"v":-0.1},{"x":18,"y":2,"v":-0.4,"s":"*"},{"x":19,"y":2,"v":0.1},{"x":20,"y":2,"v":0.2},{"x":21,"y":2,"v":0.6,"s":"*"},{"x":22,"y":2,"v":-0.2},{"x":23,"y":2,"v":-0.2},{"x":24,"y":2,"v":-0.2},{"x":25,"y":2,"v":0.1},{"x":26,"y":2,"v":0.8,"s":"**"},{"x":27,"y":2,"v":0.8,"s":"**"},{"x":0,"y":3,"v":0.6,"s":"*"},{"x":1,"y":3,"v":0.1},{"x":2,"y":3,"v":-0.5,"s":"*"},{"x":3,"y":3,"v":0.6,"s":"*"},{"x":4,"y":3,"v":-0.1},{"x":5,"y":3,"v":0.7,"s":"**"},{"x":6,"y":3,"v":0.1},{"x":7,"y":3,"v":0.1},{"x":8,"y":3,"v":-0.7,"s":"**"},{"x":9,"y":3,"v":0},{"x":10,"y":3,"v":0.1},{"x":11,"y":3,"v":0.7,"s":"**"},{"x":12,"y":3,"v":0.1},{"x":13,"y":3,"v":0.2},{"x":14,"y":3,"v":0.1},{"x":15,"y":3,"v":0.1},{"x":16,"y":3,"v":0.6,"s":"*"},{"x":17,"y":3,"v":0.1},{"x":18,"y":3,"v":-0.2},{"x":19,"y":3,"v":-0.5,"s":"*"},{"x":20,"y":3,"v":0.1},{"x":21,"y":3,"v":0.2},{"x":22,"y":3,"v":-0.1},{"x":23,"y":3,"v":0.1},{"x":24,"y":3,"v":-0.5,"s":"*"},{"x":25,"y":3,"v":0.1},{"x":26,"y":3,"v":0.1},{"x":27,"y":3,"v":-0.1},{"x":0,"y":4,"v":0.1},{"x":1,"y":4,"v":0.2},{"x":2,"y":4,"v":0.2},{"x":3,"y":4,"v":0.1},{"x":4,"y":4,"v":-0.1},{"x":5,"y":4,"v":-0.2},{"x":6,"y":4,"v":-0.2},{"x":7,"y":4,"v":0.7,"s":"**"},{"x":8,"y":4,"v":0.1},{"x":9,"y":4,"v":-0.4,"s":"*"},{"x":10,"y":4,"v":0.2},{"x":11,"y":4,"v":0},{"x":12,"y":4,"v":-0.1},{"x":13,"y":4,"v":0.5,"s":"*"},{"x":14,"y":4,"v":0.4},{"x":15,"y":4,"v":0.2},{"x":16,"y":4,"v":0.1},{"x":17,"y":4,"v":-0.2},{"x":18,"y":4,"v":-0.3},{"x":19,"y":4,"v":0.2},{"x":20,"y":4,"v":0.2},{"x":21,"y":4,"v":0.6,"s":"*"},{"x":22,"y":4,"v":-0.5,"s":"*"},{"x":23,"y":4,"v":-0.1},{"x":24,"y":4,"v":-0.1},{"x":25,"y":4,"v":0.1},{"x":26,"y":4,"v":0.7,"s":"**"},{"x":27,"y":4,"v":0.7,"s":"**"},{"x":0,"y":5,"v":0.2},{"x":1,"y":5,"v":0.2},{"x":2,"y":5,"v":0.2},{"x":3,"y":5,"v":0.1},{"x":4,"y":5,"v":-0.2},{"x":5,"y":5,"v":-0.2},{"x":6,"y":5,"v":-0.2},{"x":7,"y":5,"v":0.8,"s":"**"},{"x":8,"y":5,"v":0.1},{"x":9,"y":5,"v":-0.3},{"x":10,"y":5,"v":0.1},{"x":11,"y":5,"v":-0.1},{"x":12,"y":5,"v":0.1},{"x":13,"y":5,"v":0.5,"s":"*"},{"x":14,"y":5,"v":0.5,"s":"*"},{"x":15,"y":5,"v":0.2},{"x":16,"y":5,"v":0.2},{"x":17,"y":5,"v":-0.1},{"x":18,"y":5,"v":-0.3},{"x":19,"y":5,"v":0.1},{"x":20,"y":5,"v":0.2},{"x":21,"y":5,"v":0.7,"s":"**"},{"x":22,"y":5,"v":-0.3},{"x":23,"y":5,"v":-0.2},{"x":24,"y":5,"v":-0.2},{"x":25,"y":5,"v":0.1},{"x":26,"y":5,"v":0.8,"s":"**"},{"x":27,"y":5,"v":0.8,"s":"**"},{"x":0,"y":6,"v":0.1},{"x":1,"y":6,"v":0.1},{"x":2,"y":6,"v":0.1},{"x":3,"y":6,"v":-0.1},{"x":4,"y":6,"v":0.1},{"x":5,"y":6,"v":-0.1},{"x":6,"y":6,"v":0.6,"s":"*"},{"x":7,"y":6,"v":0.1},{"x":8,"y":6,"v":0.1},{"x":9,"y":6,"v":0.8,"s":"**"},{"x":10,"y":6,"v":0.2},{"x":11,"y":6,"v":0.1},{"x":12,"y":6,"v":-0.1},{"x":13,"y":6,"v":0.2},{"x":14,"y":6,"v":-0.5,"s":"*"},{"x":15,"y":6,"v":-0.3},{"x":16,"y":6,"v":0.3},{"x":17,"y":6,"v":-0.2},{"x":18,"y":6,"v":-0.2},{"x":19,"y":6,"v":0.2},{"x":20,"y":6,"v":0.3},{"x":21,"y":6,"v":-0.5,"s":"*"},{"x":22,"y":6,"v":0.1},{"x":23,"y":6,"v":0.2},{"x":24,"y":6,"v":0.1},{"x":25,"y":6,"v":0.1},{"x":26,"y":6,"v":-0.8,"s":"**"},{"x":27,"y":6,"v":-0.3},{"x":0,"y":7,"v":0.1},{"x":1,"y":7,"v":0.5,"s":"*"},{"x":2,"y":7,"v":0.1},{"x":3,"y":7,"v":-0.2},{"x":4,"y":7,"v":0.2},{"x":5,"y":7,"v":-0.2},{"x":6,"y":7,"v":-0.2},{"x":7,"y":7,"v":-0.1},{"x":8,"y":7,"v":0.4,"s":"*"},{"x":9,"y":7,"v":0.2},{"x":10,"y":7,"v":-0.2},{"x":11,"y":7,"v":-0.3},{"x":12,"y":7,"v":-0.5,"s":"*"},{"x":13,"y":7,"v":0.2},{"x":14,"y":7,"v":0.1},{"x":15,"y":7,"v":-0.2},{"x":16,"y":7,"v":0.1},{"x":17,"y":7,"v":0.1},{"x":18,"y":7,"v":-0.2},{"x":19,"y":7,"v":0.3},{"x":20,"y":7,"v":0.3},{"x":21,"y":7,"v":0.3},{"x":22,"y":7,"v":-0.1},{"x":23,"y":7,"v":0.3},{"x":24,"y":7,"v":0.2},{"x":25,"y":7,"v":0.1},{"x":26,"y":7,"v":0.2},{"x":27,"y":7,"v":-0.1},{"x":0,"y":8,"v":0.1},{"x":1,"y":8,"v":0.2},{"x":2,"y":8,"v":0.2},{"x":3,"y":8,"v":0.1},{"x":4,"y":8,"v":-0.1},{"x":5,"y":8,"v":-0.2},{"x":6,"y":8,"v":-0.2},{"x":7,"y":8,"v":0.7,"s":"**"},{"x":8,"y":8,"v":0.1},{"x":9,"y":8,"v":-0.4,"s":"*"},{"x":10,"y":8,"v":0.2},{"x":11,"y":8,"v":0},{"x":12,"y":8,"v":-0.1},{"x":13,"y":8,"v":0.5,"s":"*"},{"x":14,"y":8,"v":0.3},{"x":15,"y":8,"v":0.2},{"x":16,"y":8,"v":0.1},{"x":17,"y":8,"v":-0.2},{"x":18,"y":8,"v":-0.3},{"x":19,"y":8,"v":0.2},{"x":20,"y":8,"v":0.2},{"x":21,"y":8,"v":0.6,"s":"*"},{"x":22,"y":8,"v":-0.5,"s":"*"},{"x":23,"y":8,"v":-0.1},{"x":24,"y":8,"v":-0.1},{"x":25,"y":8,"v":0.1},{"x":26,"y":8,"v":0.7,"s":"**"},{"x":27,"y":8,"v":0.7,"s":"**"},{"x":0,"y":9,"v":0.2},{"x":1,"y":9,"v":0.1},{"x":2,"y":9,"v":0.1},{"x":3,"y":9,"v":0.1},{"x":4,"y":9,"v":-0.1},{"x":5,"y":9,"v":-0.2},{"x":6,"y":9,"v":-0.1},{"x":7,"y":9,"v":-0.5,"s":"*"},{"x":8,"y":9,"v":0.1},{"x":9,"y":9,"v":0.8,"s":"**"},{"x":10,"y":9,"v":0.2},{"x":11,"y":9,"v":0.1},{"x":12,"y":9,"v":-0.1},{"x":13,"y":9,"v":0.1},{"x":14,"y":9,"v":-0.1},{"x":15,"y":9,"v":-0.2},{"x":16,"y":9,"v":-0.2},{"x":17,"y":9,"v":0.1},{"x":18,"y":9,"v":-0.3},{"x":19,"y":9,"v":0.2},{"x":20,"y":9,"v":0.3},{"x":21,"y":9,"v":-0.5,"s":"*"},{"x":22,"y":9,"v":0.1},{"x":23,"y":9,"v":0.2},{"x":24,"y":9,"v":0.1},{"x":25,"y":9,"v":0.1},{"x":26,"y":9,"v":-0.3},{"x":27,"y":9,"v":-0.3},{"x":0,"y":10,"v":0.1},{"x":1,"y":10,"v":-0.3},{"x":2,"y":10,"v":-0.3},{"x":3,"y":10,"v":0.1},{"x":4,"y":10,"v":-0.2},{"x":5,"y":10,"v":0.7,"s":"**"},{"x":6,"y":10,"v":0.1},{"x":7,"y":10,"v":0.1},{"x":8,"y":10,"v":-0.5,"s":"*"},{"x":9,"y":10,"v":0.1},{"x":10,"y":10,"v":-0.1},{"x":11,"y":10,"v":0.6,"s":"*"},{"x":12,"y":10,"v":-0.2},{"x":13,"y":10,"v":-0.8,"s":"**"},{"x":14,"y":10,"v":-0.8,"s":"**"},{"x":15,"y":10,"v":-0.3},{"x":16,"y":10,"v":-0.2},{"x":17,"y":10,"v":-0.2},{"x":18,"y":10,"v":0.1},{"x":19,"y":10,"v":-0.5,"s":"*"},{"x":20,"y":10,"v":-0.1},{"x":21,"y":10,"v":0.1},{"x":22,"y":10,"v":-0.2},{"x":23,"y":10,"v":0.1},{"x":24,"y":10,"v":0.1},{"x":25,"y":10,"v":-0.1},{"x":26,"y":10,"v":-0.5,"s":"*"},{"x":27,"y":10,"v":-0.5,"s":"*"},{"x":0,"y":11,"v":0.3},{"x":1,"y":11,"v":0.2},{"x":2,"y":11,"v":0.2},{"x":3,"y":11,"v":0.1},{"x":4,"y":11,"v":-0.8,"s":"**"},{"x":5,"y":11,"v":0.1},{"x":6,"y":11,"v":0.2},{"x":7,"y":11,"v":0.1},{"x":8,"y":11,"v":-0.1},{"x":9,"y":11,"v":0.5,"s":"*"},{"x":10,"y":11,"v":0.1},{"x":11,"y":11,"v":0.5,"s":"*"},{"x":12,"y":11,"v":0.1},{"x":13,"y":11,"v":-0.1},{"x":14,"y":11,"v":-0.2},{"x":15,"y":11,"v":-0.3},{"x":16,"y":11,"v":0.2},{"x":17,"y":11,"v":-0.5,"s":"*"},{"x":18,"y":11,"v":0.2},{"x":19,"y":11,"v":0.1},{"x":20,"y":11,"v":-0.5,"s":"*"},{"x":21,"y":11,"v":0.2},{"x":22,"y":11,"v":-0.1},{"x":23,"y":11,"v":-0.7,"s":"**"},{"x":24,"y":11,"v":0.1},{"x":25,"y":11,"v":-0.1},{"x":26,"y":11,"v":0.1},{"x":27,"y":11,"v":0.1},{"x":0,"y":12,"v":-0.5,"s":"*"},{"x":1,"y":12,"v":0.1},{"x":2,"y":12,"v":0.2},{"x":3,"y":12,"v":-0.5,"s":"*"},{"x":4,"y":12,"v":0.5,"s":"*"},{"x":5,"y":12,"v":-0.2},{"x":6,"y":12,"v":-0.2},{"x":7,"y":12,"v":0.1},{"x":8,"y":12,"v":0.2},{"x":9,"y":12,"v":-0.5,"s":"*"},{"x":10,"y":12,"v":-0.2},{"x":11,"y":12,"v":-0.5,"s":"*"},{"x":12,"y":12,"v":0.1},{"x":13,"y":12,"v":0.2},{"x":14,"y":12,"v":0.2},{"x":15,"y":12,"v":0.7,"s":"**"},{"x":16,"y":12,"v":-0.5,"s":"*"},{"x":17,"y":12,"v":0.3},{"x":18,"y":12,"v":-0.5,"s":"*"},{"x":19,"y":12,"v":0.2},{"x":20,"y":12,"v":0.5,"s":"*"},{"x":21,"y":12,"v":0.1},{"x":22,"y":12,"v":-0.2},{"x":23,"y":12,"v":0.5,"s":"*"},{"x":24,"y":12,"v":0.5,"s":"*"},{"x":25,"y":12,"v":-0.4,"s":"*"},{"x":26,"y":12,"v":0.1},{"x":27,"y":12,"v":0.1},{"x":0,"y":13,"v":0.1},{"x":1,"y":13,"v":0.2},{"x":2,"y":13,"v":0.2},{"x":3,"y":13,"v":0.1},{"x":4,"y":13,"v":-0.1},{"x":5,"y":13,"v":-0.2},{"x":6,"y":13,"v":-0.2},{"x":7,"y":13,"v":0.7,"s":"**"},{"x":8,"y":13,"v":0.1},{"x":9,"y":13,"v":-0.4,"s":"*"},{"x":10,"y":13,"v":0.2},{"x":11,"y":13,"v":0},{"x":12,"y":13,"v":-0.1},{"x":13,"y":13,"v":0.5,"s":"*"},{"x":14,"y":13,"v":0.3},{"x":15,"y":13,"v":0.2},{"x":16,"y":13,"v":0.1},{"x":17,"y":13,"v":-0.2},{"x":18,"y":13,"v":-0.3},{"x":19,"y":13,"v":0.2},{"x":20,"y":13,"v":0.2},{"x":21,"y":13,"v":0.6,"s":"*"},{"x":22,"y":13,"v":-0.5,"s":"*"},{"x":23,"y":13,"v":-0.1},{"x":24,"y":13,"v":-0.1},{"x":25,"y":13,"v":0.1},{"x":26,"y":13,"v":0.8,"s":"**"},{"x":27,"y":13,"v":0.8,"s":"**"},{"x":0,"y":14,"v":0.2},{"x":1,"y":14,"v":0.2},{"x":2,"y":14,"v":0.2},{"x":3,"y":14,"v":0.1},{"x":4,"y":14,"v":-0.2},{"x":5,"y":14,"v":-0.2},{"x":6,"y":14,"v":-0.2},{"x":7,"y":14,"v":0.8,"s":"**"},{"x":8,"y":14,"v":0.1},{"x":9,"y":14,"v":-0.3},{"x":10,"y":14,"v":0.1},{"x":11,"y":14,"v":-0.1},{"x":12,"y":14,"v":0.1},{"x":13,"y":14,"v":0.5,"s":"*"},{"x":14,"y":14,"v":0.5,"s":"*"},{"x":15,"y":14,"v":0.2},{"x":16,"y":14,"v":0.1},{"x":17,"y":14,"v":-0.1},{"x":18,"y":14,"v":-0.4,"s":"*"},{"x":19,"y":14,"v":0.1},{"x":20,"y":14,"v":0.2},{"x":21,"y":14,"v":0.7,"s":"**"},{"x":22,"y":14,"v":-0.2},{"x":23,"y":14,"v":-0.2},{"x":24,"y":14,"v":-0.2},{"x":25,"y":14,"v":0.1},{"x":26,"y":14,"v":0.9,"s":"**"},{"x":27,"y":14,"v":0.9,"s":"**"},{"x":0,"y":15,"v":0.1},{"x":1,"y":15,"v":0.4},{"x":2,"y":15,"v":0.4},{"x":3,"y":15,"v":0.1},{"x":4,"y":15,"v":-0.5,"s":"*"},{"x":5,"y":15,"v":0.1},{"x":6,"y":15,"v":0.1},{"x":7,"y":15,"v":0.1},{"x":8,"y":15,"v":-0.2},{"x":9,"y":15,"v":0.6,"s":"*"},{"x":10,"y":15,"v":-0.1},{"x":11,"y":15,"v":0.1},{"x":12,"y":15,"v":-0.5,"s":"*"},{"x":13,"y":15,"v":0.2},{"x":14,"y":15,"v":-0.2},{"x":15,"y":15,"v":-0.5,"s":"*"},{"x":16,"y":15,"v":0.1},{"x":17,"y":15,"v":-0.7,"s":"**"},{"x":18,"y":15,"v":0.6,"s":"**"},{"x":19,"y":15,"v":0.2},{"x":20,"y":15,"v":-0.7,"s":"**"},{"x":21,"y":15,"v":0.1},{"x":22,"y":15,"v":-0.2},{"x":23,"y":15,"v":-0.7,"s":"**"},{"x":24,"y":15,"v":0.2},{"x":25,"y":15,"v":0.7,"s":"**"},{"x":26,"y":15,"v":0.1},{"x":27,"y":15,"v":0.1},{"x":0,"y":16,"v":-0.5,"s":"*"},{"x":1,"y":16,"v":0.1},{"x":2,"y":16,"v":0.1},{"x":3,"y":16,"v":0.1},{"x":4,"y":16,"v":-0.1},{"x":5,"y":16,"v":-0.1},{"x":6,"y":16,"v":0.7,"s":"**"},{"x":7,"y":16,"v":0.1},{"x":8,"y":16,"v":0.1},{"x":9,"y":16,"v":0.7,"s":"**"},{"x":10,"y":16,"v":0.1},{"x":11,"y":16,"v":0.1},{"x":12,"y":16,"v":0.1},{"x":13,"y":16,"v":-0.2},{"x":14,"y":16,"v":-0.1},{"x":15,"y":16,"v":0.1},{"x":16,"y":16,"v":-0.5,"s":"*"},{"x":17,"y":16,"v":0.2},{"x":18,"y":16,"v":0.1},{"x":19,"y":16,"v":0.3},{"x":20,"y":16,"v":0.1},{"x":21,"y":16,"v":-0.8,"s":"**"},{"x":22,"y":16,"v":0.1},{"x":23,"y":16,"v":0.2},{"x":24,"y":16,"v":0.1},{"x":25,"y":16,"v":0.1},{"x":26,"y":16,"v":-0.5,"s":"*"},{"x":27,"y":16,"v":-0.5,"s":"*"},{"x":0,"y":17,"v":0.3},{"x":1,"y":17,"v":-0.3},{"x":2,"y":17,"v":-0.3},{"x":3,"y":17,"v":0.1},{"x":4,"y":17,"v":0.1},{"x":5,"y":17,"v":0.3},{"x":6,"y":17,"v":0.3},{"x":7,"y":17,"v":0.1},{"x":8,"y":17,"v":0.1},{"x":9,"y":17,"v":-0.5,"s":"*"},{"x":10,"y":17,"v":-0.3},{"x":11,"y":17,"v":0.1},{"x":12,"y":17,"v":0.1},{"x":13,"y":17,"v":-0.2},{"x":14,"y":17,"v":-0.2},{"x":15,"y":17,"v":-0.2},{"x":16,"y":17,"v":0.2},{"x":17,"y":17,"v":0.1},{"x":18,"y":17,"v":0.1},{"x":19,"y":17,"v":-0.5,"s":"*"},{"x":20,"y":17,"v":0.2},{"x":21,"y":17,"v":0.2},{"x":22,"y":17,"v":0.1},{"x":23,"y":17,"v":0.3},{"x":24,"y":17,"v":0.2},{"x":25,"y":17,"v":-0.5,"s":"*"},{"x":26,"y":17,"v":0.1},{"x":27,"y":17,"v":-0.2},{"x":0,"y":18,"v":0.4},{"x":1,"y":18,"v":0.1},{"x":2,"y":18,"v":-0.1},{"x":3,"y":18,"v":0.1},{"x":4,"y":18,"v":0.2},{"x":5,"y":18,"v":0.2},{"x":6,"y":18,"v":0.1},{"x":7,"y":18,"v":0.1},{"x":8,"y":18,"v":-0.2},{"x":9,"y":18,"v":0.5,"s":"*"},{"x":10,"y":18,"v":-0.1},{"x":11,"y":18,"v":0.5,"s":"*"},{"x":12,"y":18,"v":-0.2},{"x":13,"y":18,"v":-0.2},{"x":14,"y":18,"v":-0.2},{"x":15,"y":18,"v":-0.2},{"x":16,"y":18,"v":0.1},{"x":17,"y":18,"v":0.1},{"x":18,"y":18,"v":0.3},{"x":19,"y":18,"v":0.1},{"x":20,"y":18,"v":-0.1},{"x":21,"y":18,"v":-0.1},{"x":22,"y":18,"v":0.2},{"x":23,"y":18,"v":0.2},{"x":24,"y":18,"v":0.2},{"x":25,"y":18,"v":0.1},{"x":26,"y":18,"v":-0.5,"s":"*"},{"x":27,"y":18,"v":-0.5,"s":"*"},{"x":0,"y":19,"v":0.5},{"x":1,"y":19,"v":0.1},{"x":2,"y":19,"v":-0.2},{"x":3,"y":19,"v":0.1},{"x":4,"y":19,"v":-0.2},{"x":5,"y":19,"v":0.5,"s":"*"},{"x":6,"y":19,"v":0.2},{"x":7,"y":19,"v":0.1},{"x":8,"y":19,"v":-0.2},{"x":9,"y":19,"v":0.5,"s":"*"},{"x":10,"y":19,"v":0.1},{"x":11,"y":19,"v":0.7,"s":"**"},{"x":12,"y":19,"v":-0.2},{"x":13,"y":19,"v":-0.5,"s":"*"},{"x":14,"y":19,"v":-0.5,"s":"*"},{"x":15,"y":19,"v":-0.3},{"x":16,"y":19,"v":0.5,"s":"*"},{"x":17,"y":19,"v":-0.2},{"x":18,"y":19,"v":0.5,"s":"*"},{"x":19,"y":19,"v":0.1},{"x":20,"y":19,"v":-0.7,"s":"**"},{"x":21,"y":19,"v":0.1},{"x":22,"y":19,"v":-0.2},{"x":23,"y":19,"v":0.2},{"x":24,"y":19,"v":0.2},{"x":25,"y":19,"v":0.2},{"x":26,"y":19,"v":-0.5,"s":"*"},{"x":27,"y":19,"v":-0.2},{"x":0,"y":20,"v":-0.5,"s":"*"},{"x":1,"y":20,"v":0.1},{"x":2,"y":20,"v":0.2},{"x":3,"y":20,"v":-0.5,"s":"*"},{"x":4,"y":20,"v":0.5,"s":"*"},{"x":5,"y":20,"v":-0.2},{"x":6,"y":20,"v":-0.2},{"x":7,"y":20,"v":0.1},{"x":8,"y":20,"v":0.2},{"x":9,"y":20,"v":-0.5,"s":"*"},{"x":10,"y":20,"v":-0.2},{"x":11,"y":20,"v":-0.5,"s":"*"},{"x":12,"y":20,"v":0.1},{"x":13,"y":20,"v":0.2},{"x":14,"y":20,"v":0.2},{"x":15,"y":20,"v":0.7,"s":"**"},{"x":16,"y":20,"v":-0.5,"s":"*"},{"x":17,"y":20,"v":0.3},{"x":18,"y":20,"v":-0.5,"s":"*"},{"x":19,"y":20,"v":0.2},{"x":20,"y":20,"v":0.5,"s":"*"},{"x":21,"y":20,"v":0.1},{"x":22,"y":20,"v":-0.2},{"x":23,"y":20,"v":0.5,"s":"*"},{"x":24,"y":20,"v":0.5,"s":"*"},{"x":25,"y":20,"v":-0.4,"s":"*"},{"x":26,"y":20,"v":0.1},{"x":27,"y":20,"v":0.1},{"x":0,"y":21,"v":0.1},{"x":1,"y":21,"v":0.2},{"x":2,"y":21,"v":0.2},{"x":3,"y":21,"v":0.1},{"x":4,"y":21,"v":-0.1},{"x":5,"y":21,"v":-0.2},{"x":6,"y":21,"v":-0.2},{"x":7,"y":21,"v":0.7,"s":"**"},{"x":8,"y":21,"v":0.1},{"x":9,"y":21,"v":-0.2},{"x":10,"y":21,"v":0.3},{"x":11,"y":21,"v":0},{"x":12,"y":21,"v":-0.1},{"x":13,"y":21,"v":0.5,"s":"*"},{"x":14,"y":21,"v":0.2},{"x":15,"y":21,"v":0.2},{"x":16,"y":21,"v":0.1},{"x":17,"y":21,"v":-0.2},{"x":18,"y":21,"v":-0.3},{"x":19,"y":21,"v":0.2},{"x":20,"y":21,"v":0.2},{"x":21,"y":21,"v":0.6,"s":"*"},{"x":22,"y":21,"v":-0.5,"s":"*"},{"x":23,"y":21,"v":-0.1},{"x":24,"y":21,"v":-0.1},{"x":25,"y":21,"v":0.1},{"x":26,"y":21,"v":0.7,"s":"**"},{"x":27,"y":21,"v":0.7,"s":"**"},{"x":0,"y":22,"v":-0.3},{"x":1,"y":22,"v":-0.1},{"x":2,"y":22,"v":0.2},{"x":3,"y":22,"v":-0.3},{"x":4,"y":22,"v":0.2},{"x":5,"y":22,"v":-0.2},{"x":6,"y":22,"v":0.7,"s":"**"},{"x":7,"y":22,"v":0.1},{"x":8,"y":22,"v":-0.3},{"x":9,"y":22,"v":0.8,"s":"**"},{"x":10,"y":22,"v":-0.3},{"x":11,"y":22,"v":-0.1},{"x":12,"y":22,"v":-0.1},{"x":13,"y":22,"v":0.1},{"x":14,"y":22,"v":-0.5,"s":"*"},{"x":15,"y":22,"v":-0.2},{"x":16,"y":22,"v":-0.3},{"x":17,"y":22,"v":0.3},{"x":18,"y":22,"v":0.5,"s":"*"},{"x":19,"y":22,"v":0.1},{"x":20,"y":22,"v":-0.2},{"x":21,"y":22,"v":-0.5,"s":"*"},{"x":22,"y":22,"v":-0.1},{"x":23,"y":22,"v":0.3},{"x":24,"y":22,"v":0.3},{"x":25,"y":22,"v":0.1},{"x":26,"y":22,"v":-0.3},{"x":27,"y":22,"v":-0.3},{"x":0,"y":23,"v":0.1},{"x":1,"y":23,"v":0.2},{"x":2,"y":23,"v":0.5},{"x":3,"y":23,"v":-0.1},{"x":4,"y":23,"v":-0.1},{"x":5,"y":23,"v":0.1},{"x":6,"y":23,"v":0.1},{"x":7,"y":23,"v":-0.2},{"x":8,"y":23,"v":-0.2},{"x":9,"y":23,"v":0.1},{"x":10,"y":23,"v":0.2},{"x":11,"y":23,"v":-0.1},{"x":12,"y":23,"v":-0.5,"s":"*"},{"x":13,"y":23,"v":-0.2},{"x":14,"y":23,"v":-0.2},{"x":15,"y":23,"v":-0.2},{"x":16,"y":23,"v":0.1},{"x":17,"y":23,"v":0.2},{"x":18,"y":23,"v":0.4},{"x":19,"y":23,"v":0.1},{"x":20,"y":23,"v":-0.2},{"x":21,"y":23,"v":-0.1},{"x":22,"y":23,"v":0.3},{"x":23,"y":23,"v":0.3},{"x":24,"y":23,"v":0.4},{"x":25,"y":23,"v":0.1},{"x":26,"y":23,"v":0.1},{"x":27,"y":23,"v":-0.1},{"x":0,"y":24,"v":-0.3},{"x":1,"y":24,"v":-0.1},{"x":2,"y":24,"v":0.2},{"x":3,"y":24,"v":-0.3},{"x":4,"y":24,"v":0.2},{"x":5,"y":24,"v":-0.2},{"x":6,"y":24,"v":0.7,"s":"**"},{"x":7,"y":24,"v":0.1},{"x":8,"y":24,"v":-0.3},{"x":9,"y":24,"v":0.8,"s":"**"},{"x":10,"y":24,"v":-0.3},{"x":11,"y":24,"v":-0.1},{"x":12,"y":24,"v":-0.1},{"x":13,"y":24,"v":0.1},{"x":14,"y":24,"v":-0.5,"s":"*"},{"x":15,"y":24,"v":-0.2},{"x":16,"y":24,"v":-0.3},{"x":17,"y":24,"v":0.3},{"x":18,"y":24,"v":0.5,"s":"*"},{"x":19,"y":24,"v":0.1},{"x":20,"y":24,"v":-0.2},{"x":21,"y":24,"v":-0.6,"s":"*"},{"x":22,"y":24,"v":-0.1},{"x":23,"y":24,"v":0.3},{"x":24,"y":24,"v":0.3},{"x":25,"y":24,"v":0.1},{"x":26,"y":24,"v":-0.3},{"x":27,"y":24,"v":-0.3},{"x":0,"y":25,"v":-0.2},{"x":1,"y":25,"v":-0.1},{"x":2,"y":25,"v":0.4},{"x":3,"y":25,"v":-0.1},{"x":4,"y":25,"v":-0.1},{"x":5,"y":25,"v":0.1},{"x":6,"y":25,"v":0.1},{"x":7,"y":25,"v":-0.1},{"x":8,"y":25,"v":-0.2},{"x":9,"y":25,"v":0.1},{"x":10,"y":25,"v":0.2},{"x":11,"y":25,"v":-0.1},{"x":12,"y":25,"v":-0.4},{"x":13,"y":25,"v":-0.2},{"x":14,"y":25,"v":-0.2},{"x":15,"y":25,"v":-0.2},{"x":16,"y":25,"v":0.1},{"x":17,"y":25,"v":0.1},{"x":18,"y":25,"v":0.2},{"x":19,"y":25,"v":0.1},{"x":20,"y":25,"v":-0.2},{"x":21,"y":25,"v":-0.1},{"x":22,"y":25,"v":0.2},{"x":23,"y":25,"v":0.3},{"x":24,"y":25,"v":0.4},{"x":25,"y":25,"v":0.1},{"x":26,"y":25,"v":0.1},{"x":27,"y":25,"v":-0.1},{"x":0,"y":26,"v":0.1},{"x":1,"y":26,"v":0.2},{"x":2,"y":26,"v":0.5},{"x":3,"y":26,"v":-0.1},{"x":4,"y":26,"v":-0.1},{"x":5,"y":26,"v":0.1},{"x":6,"y":26,"v":0.1},{"x":7,"y":26,"v":-0.2},{"x":8,"y":26,"v":-0.2},{"x":9,"y":26,"v":0.1},{"x":10,"y":26,"v":0.2},{"x":11,"y":26,"v":-0.1},{"x":12,"y":26,"v":-0.5,"s":"*"},{"x":13,"y":26,"v":-0.2},{"x":14,"y":26,"v":-0.2},{"x":15,"y":26,"v":-0.2},{"x":16,"y":26,"v":0.1},{"x":17,"y":26,"v":0.2},{"x":18,"y":26,"v":0.4},{"x":19,"y":26,"v":0.1},{"x":20,"y":26,"v":-0.2},{"x":21,"y":26,"v":-0.1},{"x":22,"y":26,"v":0.3},{"x":23,"y":26,"v":0.3},{"x":24,"y":26,"v":0.4},{"x":25,"y":26,"v":0.1},{"x":26,"y":26,"v":0.1},{"x":27,"y":26,"v":-0.1},{"x":0,"y":27,"v":-0.2},{"x":1,"y":27,"v":-0.1},{"x":2,"y":27,"v":0.4},{"x":3,"y":27,"v":-0.1},{"x":4,"y":27,"v":-0.1},{"x":5,"y":27,"v":0.1},{"x":6,"y":27,"v":0.1},{"x":7,"y":27,"v":-0.1},{"x":8,"y":27,"v":-0.2},{"x":9,"y":27,"v":0.1},{"x":10,"y":27,"v":0.2},{"x":11,"y":27,"v":-0.1},{"x":12,"y":27,"v":-0.4},{"x":13,"y":27,"v":-0.2},{"x":14,"y":27,"v":-0.2},{"x":15,"y":27,"v":-0.2},{"x":16,"y":27,"v":0.1},{"x":17,"y":27,"v":0.1},{"x":18,"y":27,"v":0.2},{"x":19,"y":27,"v":0.1},{"x":20,"y":27,"v":-0.2},{"x":21,"y":27,"v":-0.1},{"x":22,"y":27,"v":0.2},{"x":23,"y":27,"v":0.3},{"x":24,"y":27,"v":0.4},{"x":25,"y":27,"v":0.1},{"x":26,"y":27,"v":0.1},{"x":27,"y":27,"v":-0.1},{"x":0,"y":28,"v":0.5},{"x":1,"y":28,"v":-0.5},{"x":2,"y":28,"v":-0.2},{"x":3,"y":28,"v":0.6,"s":"*"},{"x":4,"y":28,"v":-0.1},{"x":5,"y":28,"v":-0.2},{"x":6,"y":28,"v":-0.1},{"x":7,"y":28,"v":0.1},{"x":8,"y":28,"v":0.1},{"x":9,"y":28,"v":-0.85,"s":"**"},{"x":10,"y":28,"v":-0.2},{"x":11,"y":28,"v":0.1},{"x":12,"y":28,"v":0.5},{"x":13,"y":28,"v":-0.1},{"x":14,"y":28,"v":-0.2},{"x":15,"y":28,"v":-0.2},{"x":16,"y":28,"v":-0.1},{"x":17,"y":28,"v":0.1},{"x":18,"y":28,"v":0.1},{"x":19,"y":28,"v":-0.5,"s":"*"},{"x":20,"y":28,"v":0.1},{"x":21,"y":28,"v":0.6,"s":"*"},{"x":22,"y":28,"v":-0.5,"s":"*"},{"x":23,"y":28,"v":0.1},{"x":24,"y":28,"v":-0.5,"s":"*"},{"x":25,"y":28,"v":0.1},{"x":26,"y":28,"v":0.1},{"x":27,"y":28,"v":0.3},{"x":0,"y":29,"v":-0.3},{"x":1,"y":29,"v":-0.1},{"x":2,"y":29,"v":0.2},{"x":3,"y":29,"v":-0.3},{"x":4,"y":29,"v":0.2},{"x":5,"y":29,"v":-0.2},{"x":6,"y":29,"v":0.7,"s":"**"},{"x":7,"y":29,"v":0.1},{"x":8,"y":29,"v":-0.3},{"x":9,"y":29,"v":0.8,"s":"**"},{"x":10,"y":29,"v":-0.3},{"x":11,"y":29,"v":-0.1},{"x":12,"y":29,"v":-0.1},{"x":13,"y":29,"v":0.1},{"x":14,"y":29,"v":-0.5,"s":"*"},{"x":15,"y":29,"v":-0.2},{"x":16,"y":29,"v":-0.3},{"x":17,"y":29,"v":0.3},{"x":18,"y":29,"v":0.5,"s":"*"},{"x":19,"y":29,"v":0.1},{"x":20,"y":29,"v":-0.2},{"x":21,"y":29,"v":-0.5,"s":"*"},{"x":22,"y":29,"v":0.1},{"x":23,"y":29,"v":0.3},{"x":24,"y":29,"v":0.3},{"x":25,"y":29,"v":0.1},{"x":26,"y":29,"v":-0.3},{"x":27,"y":29,"v":-0.3},{"x":0,"y":30,"v":-0.2},{"x":1,"y":30,"v":-0.1},{"x":2,"y":30,"v":0.2},{"x":3,"y":30,"v":-0.2},{"x":4,"y":30,"v":0.1},{"x":5,"y":30,"v":0.1},{"x":6,"y":30,"v":0.1},{"x":7,"y":30,"v":-0.5,"s":"*"},{"x":8,"y":30,"v":0.1},{"x":9,"y":30,"v":0.1},{"x":10,"y":30,"v":-0.8,"s":"**"},{"x":11,"y":30,"v":0.1},{"x":12,"y":30,"v":0.1},{"x":13,"y":30,"v":0.1},{"x":14,"y":30,"v":-0.1},{"x":15,"y":30,"v":0.1},{"x":16,"y":30,"v":-0.2},{"x":17,"y":30,"v":0.2},{"x":18,"y":30,"v":0.2},{"x":19,"y":30,"v":0.1},{"x":20,"y":30,"v":-0.2},{"x":21,"y":30,"v":-0.5,"s":"*"},{"x":22,"y":30,"v":0.1},{"x":23,"y":30,"v":0.2},{"x":24,"y":30,"v":0.5,"s":"*"},{"x":25,"y":30,"v":0.2},{"x":26,"y":30,"v":-0.1},{"x":27,"y":30,"v":-0.5,"s":"*"},{"x":0,"y":31,"v":0.1},{"x":1,"y":31,"v":0.2},{"x":2,"y":31,"v":0.5},{"x":3,"y":31,"v":-0.1},{"x":4,"y":31,"v":-0.1},{"x":5,"y":31,"v":0.1},{"x":6,"y":31,"v":0.1},{"x":7,"y":31,"v":-0.2},{"x":8,"y":31,"v":-0.2},{"x":9,"y":31,"v":0.1},{"x":10,"y":31,"v":0.2},{"x":11,"y":31,"v":-0.1},{"x":12,"y":31,"v":-0.5,"s":"*"},{"x":13,"y":31,"v":-0.2},{"x":14,"y":31,"v":-0.2},{"x":15,"y":31,"v":-0.2},{"x":16,"y":31,"v":0.1},{"x":17,"y":31,"v":0.2},{"x":18,"y":31,"v":0.4},{"x":19,"y":31,"v":0.1},{"x":20,"y":31,"v":-0.2},{"x":21,"y":31,"v":-0.1},{"x":22,"y":31,"v":0.3},{"x":23,"y":31,"v":0.3},{"x":24,"y":31,"v":0.4},{"x":25,"y":31,"v":0.1},{"x":26,"y":31,"v":0.1},{"x":27,"y":31,"v":-0.1},{"x":0,"y":32,"v":-0.3},{"x":1,"y":32,"v":-0.1},{"x":2,"y":32,"v":0.2},{"x":3,"y":32,"v":-0.3},{"x":4,"y":32,"v":0.2},{"x":5,"y":32,"v":-0.2},{"x":6,"y":32,"v":0.7,"s":"**"},{"x":7,"y":32,"v":0.1},{"x":8,"y":32,"v":-0.3},{"x":9,"y":32,"v":0.8,"s":"**"},{"x":10,"y":32,"v":-0.3},{"x":11,"y":32,"v":-0.1},{"x":12,"y":32,"v":-0.1},{"x":13,"y":32,"v":0.1},{"x":14,"y":32,"v":-0.5,"s":"*"},{"x":15,"y":32,"v":-0.2},{"x":16,"y":32,"v":-0.3},{"x":17,"y":32,"v":0.3},{"x":18,"y":32,"v":0.5,"s":"*"},{"x":19,"y":32,"v":0.1},{"x":20,"y":32,"v":-0.2},{"x":21,"y":32,"v":-0.6,"s":"*"},{"x":22,"y":32,"v":0.1},{"x":23,"y":32,"v":0.3},{"x":24,"y":32,"v":0.3},{"x":25,"y":32,"v":0.1},{"x":26,"y":32,"v":-0.3},{"x":27,"y":32,"v":-0.3},{"x":0,"y":33,"v":-0.2},{"x":1,"y":33,"v":-0.1},{"x":2,"y":33,"v":0.2},{"x":3,"y":33,"v":-0.2},{"x":4,"y":33,"v":0.1},{"x":5,"y":33,"v":0.1},{"x":6,"y":33,"v":0.1},{"x":7,"y":33,"v":-0.5,"s":"*"},{"x":8,"y":33,"v":0.1},{"x":9,"y":33,"v":0.1},{"x":10,"y":33,"v":-0.8,"s":"**"},{"x":11,"y":33,"v":0.1},{"x":12,"y":33,"v":0.1},{"x":13,"y":33,"v":0.1},{"x":14,"y":33,"v":-0.1},{"x":15,"y":33,"v":0.1},{"x":16,"y":33,"v":-0.2},{"x":17,"y":33,"v":0.2},{"x":18,"y":33,"v":0.2},{"x":19,"y":33,"v":0.1},{"x":20,"y":33,"v":-0.2},{"x":21,"y":33,"v":-0.4},{"x":22,"y":33,"v":0.1},{"x":23,"y":33,"v":0.2},{"x":24,"y":33,"v":0.5,"s":"*"},{"x":25,"y":33,"v":0.2},{"x":26,"y":33,"v":-0.1},{"x":27,"y":33,"v":-0.5,"s":"*"},{"x":0,"y":34,"v":0.1},{"x":1,"y":34,"v":0.1},{"x":2,"y":34,"v":0.1},{"x":3,"y":34,"v":-0.2},{"x":4,"y":34,"v":0.1},{"x":5,"y":34,"v":0.1},{"x":6,"y":34,"v":0.1},{"x":7,"y":34,"v":-0.2},{"x":8,"y":34,"v":-0.1},{"x":9,"y":34,"v":0.9,"s":"**"},{"x":10,"y":34,"v":-0.1},{"x":11,"y":34,"v":-0.1},{"x":12,"y":34,"v":0.1},{"x":13,"y":34,"v":-0.1},{"x":14,"y":34,"v":0.2},{"x":15,"y":34,"v":0.2},{"x":16,"y":34,"v":-0.1},{"x":17,"y":34,"v":0.2},{"x":18,"y":34,"v":0.2},{"x":19,"y":34,"v":0.1},{"x":20,"y":34,"v":0.1},{"x":21,"y":34,"v":0.1},{"x":22,"y":34,"v":0.5,"s":"*"},{"x":23,"y":34,"v":0.1},{"x":24,"y":34,"v":0.3},{"x":25,"y":34,"v":0.7,"s":"**"},{"x":26,"y":34,"v":-0.1},{"x":27,"y":34,"v":0.1},{"x":0,"y":35,"v":0.1},{"x":1,"y":35,"v":0.2},{"x":2,"y":35,"v":0.5},{"x":3,"y":35,"v":-0.1},{"x":4,"y":35,"v":-0.1},{"x":5,"y":35,"v":0.1},{"x":6,"y":35,"v":0.1},{"x":7,"y":35,"v":-0.2},{"x":8,"y":35,"v":-0.2},{"x":9,"y":35,"v":0.1},{"x":10,"y":35,"v":0.2},{"x":11,"y":35,"v":-0.1},{"x":12,"y":35,"v":-0.5,"s":"*"},{"x":13,"y":35,"v":-0.2},{"x":14,"y":35,"v":-0.2},{"x":15,"y":35,"v":-0.2},{"x":16,"y":35,"v":0.1},{"x":17,"y":35,"v":0.2},{"x":18,"y":35,"v":0.4},{"x":19,"y":35,"v":0.1},{"x":20,"y":35,"v":-0.2},{"x":21,"y":35,"v":-0.1},{"x":22,"y":35,"v":0.3},{"x":23,"y":35,"v":0.3},{"x":24,"y":35,"v":0.4},{"x":25,"y":35,"v":0.1},{"x":26,"y":35,"v":0.1},{"x":27,"y":35,"v":-0.1},{"x":0,"y":36,"v":-0.4},{"x":1,"y":36,"v":-0.1},{"x":2,"y":36,"v":0.2},{"x":3,"y":36,"v":-0.3},{"x":4,"y":36,"v":0.3},{"x":5,"y":36,"v":0.1},{"x":6,"y":36,"v":0.1},{"x":7,"y":36,"v":-0.3},{"x":8,"y":36,"v":0.1},{"x":9,"y":36,"v":-0.2},{"x":10,"y":36,"v":-0.4},{"x":11,"y":36,"v":-0.5,"s":"*"},{"x":12,"y":36,"v":0.4},{"x":13,"y":36,"v":0.1},{"x":14,"y":36,"v":-0.2},{"x":15,"y":36,"v":-0.2},{"x":16,"y":36,"v":-0.5,"s":"*"},{"x":17,"y":36,"v":0.2},{"x":18,"y":36,"v":0.1},{"x":19,"y":36,"v":0.1},{"x":20,"y":36,"v":-0.1},{"x":21,"y":36,"v":0.1},{"x":22,"y":36,"v":0.3},{"x":23,"y":36,"v":0.5,"s":"*"},{"x":24,"y":36,"v":0.2},{"x":25,"y":36,"v":0.1},{"x":26,"y":36,"v":-0.3},{"x":27,"y":36,"v":-0.3},{"x":0,"y":37,"v":-0.4},{"x":1,"y":37,"v":-0.1},{"x":2,"y":37,"v":0.2},{"x":3,"y":37,"v":-0.4},{"x":4,"y":37,"v":0.3},{"x":5,"y":37,"v":-0.2},{"x":6,"y":37,"v":0.8,"s":"**"},{"x":7,"y":37,"v":0.1},{"x":8,"y":37,"v":-0.3},{"x":9,"y":37,"v":0.8,"s":"**"},{"x":10,"y":37,"v":-0.4},{"x":11,"y":37,"v":-0.1},{"x":12,"y":37,"v":-0.1},{"x":13,"y":37,"v":0.1},{"x":14,"y":37,"v":-0.6,"s":"*"},{"x":15,"y":37,"v":-0.2},{"x":16,"y":37,"v":-0.4},{"x":17,"y":37,"v":0.3},{"x":18,"y":37,"v":0.6,"s":"*"},{"x":19,"y":37,"v":0.1},{"x":20,"y":37,"v":-0.2},{"x":21,"y":37,"v":-0.7,"s":"*"},{"x":22,"y":37,"v":0.1},{"x":23,"y":37,"v":0.3},{"x":24,"y":37,"v":0.3},{"x":25,"y":37,"v":0.1},{"x":26,"y":37,"v":-0.4},{"x":27,"y":37,"v":-0.4},{"x":0,"y":38,"v":-0.1},{"x":1,"y":38,"v":0.4},{"x":2,"y":38,"v":0.4},{"x":3,"y":38,"v":0.1},{"x":4,"y":38,"v":-0.3},{"x":5,"y":38,"v":-0.2},{"x":6,"y":38,"v":0.1},{"x":7,"y":38,"v":-0.1},{"x":8,"y":38,"v":-0.2},{"x":9,"y":38,"v":0.2},{"x":10,"y":38,"v":-0.2},{"x":11,"y":38,"v":0.3},{"x":12,"y":38,"v":0.1},{"x":13,"y":38,"v":-0.2},{"x":14,"y":38,"v":-0.2},{"x":15,"y":38,"v":-0.2},{"x":16,"y":38,"v":0.1},{"x":17,"y":38,"v":0.2},{"x":18,"y":38,"v":0.1},{"x":19,"y":38,"v":0.1},{"x":20,"y":38,"v":0.2},{"x":21,"y":38,"v":0.2},{"x":22,"y":38,"v":0.2},{"x":23,"y":38,"v":0.2},{"x":24,"y":38,"v":0.2},{"x":25,"y":38,"v":0.1},{"x":26,"y":38,"v":0.1},{"x":27,"y":38,"v":-0.1},{"x":0,"y":39,"v":0.3},{"x":1,"y":39,"v":0.4},{"x":2,"y":39,"v":0.5},{"x":3,"y":39,"v":-0.3},{"x":4,"y":39,"v":-0.1},{"x":5,"y":39,"v":-0.7,"s":"**"},{"x":6,"y":39,"v":0.1},{"x":7,"y":39,"v":0.1},{"x":8,"y":39,"v":0.3},{"x":9,"y":39,"v":0.1},{"x":10,"y":39,"v":0.2},{"x":11,"y":39,"v":-0.4},{"x":12,"y":39,"v":0.2},{"x":13,"y":39,"v":0.8,"s":"**"},{"x":14,"y":39,"v":0.2},{"x":15,"y":39,"v":-0.2},{"x":16,"y":39,"v":0.1},{"x":17,"y":39,"v":-0.1},{"x":18,"y":39,"v":0.1},{"x":19,"y":39,"v":0.5,"s":"*"},{"x":20,"y":39,"v":-0.1},{"x":21,"y":39,"v":0.1},{"x":22,"y":39,"v":-0.1},{"x":23,"y":39,"v":0.1},{"x":24,"y":39,"v":0.3},{"x":25,"y":39,"v":0.1},{"x":26,"y":39,"v":0.5},{"x":27,"y":39,"v":0.8,"s":"*"}],"e":[{"x":0,"y":0,"v":-0.1},{"x":1,"y":0,"v":0.1},{"x":2,"y":0,"v":0.2},{"x":3,"y":0,"v":-0.8,"s":"*"},{"x":4,"y":0,"v":0.2},{"x":5,"y":0,"v":-0.2},{"x":6,"y":0,"v":-0.3},{"x":7,"y":0,"v":-0.3},{"x":8,"y":0,"v":0.2},{"x":9,"y":0,"v":-0.1},{"x":10,"y":0,"v":-0.2},{"x":11,"y":0,"v":0.2},{"x":12,"y":0,"v":-0.1},{"x":13,"y":0,"v":0.2},{"x":14,"y":0,"v":0.2},{"x":15,"y":0,"v":0.2},{"x":16,"y":0,"v":0.9,"s":"**"},{"x":17,"y":0,"v":0.1},{"x":18,"y":0,"v":0.3},{"x":19,"y":0,"v":0.2},{"x":20,"y":0,"v":-0.3},{"x":21,"y":0,"v":-0.3},{"x":22,"y":0,"v":0.1},{"x":23,"y":0,"v":0.6,"s":"*"},{"x":24,"y":0,"v":-0.1},{"x":0,"y":1,"v":-0.1},{"x":1,"y":1,"v":0.1},{"x":2,"y":1,"v":0.2},{"x":3,"y":1,"v":-0.7,"s":"*"},{"x":4,"y":1,"v":0.1},{"x":5,"y":1,"v":-0.2},{"x":6,"y":1,"v":-0.3},{"x":7,"y":1,"v":-0.3},{"x":8,"y":1,"v":0.1},{"x":9,"y":1,"v":-0.1},{"x":10,"y":1,"v":-0.2},{"x":11,"y":1,"v":0.2},{"x":12,"y":1,"v":-0.1},{"x":13,"y":1,"v":0.2},{"x":14,"y":1,"v":0.1},{"x":15,"y":1,"v":0.2},{"x":16,"y":1,"v":0.6,"s":"*"},{"x":17,"y":1,"v":0.1},{"x":18,"y":1,"v":0.3},{"x":19,"y":1,"v":0.2},{"x":20,"y":1,"v":-0.3},{"x":21,"y":1,"v":-0.2},{"x":22,"y":1,"v":0.1},{"x":23,"y":1,"v":0.6,"s":"*"},{"x":24,"y":1,"v":-0.1},{"x":0,"y":2,"v":-0.1},{"x":1,"y":2,"v":0.1},{"x":2,"y":2,"v":0.2},{"x":3,"y":2,"v":-0.7,"s":"*"},{"x":4,"y":2,"v":0.2},{"x":5,"y":2,"v":-0.2},{"x":6,"y":2,"v":-0.3},{"x":7,"y":2,"v":-0.3},{"x":8,"y":2,"v":0.2},{"x":9,"y":2,"v":-0.1},{"x":10,"y":2,"v":-0.2},{"x":11,"y":2,"v":0.2},{"x":12,"y":2,"v":-0.1},{"x":13,"y":2,"v":0.2},{"x":14,"y":2,"v":0.2},{"x":15,"y":2,"v":0.2},{"x":16,"y":2,"v":0.9,"s":"**"},{"x":17,"y":2,"v":0.1},{"x":18,"y":2,"v":0.3},{"x":19,"y":2,"v":0.2},{"x":20,"y":2,"v":-0.3},{"x":21,"y":2,"v":-0.3},{"x":22,"y":2,"v":0.1},{"x":23,"y":2,"v":0.6,"s":"*"},{"x":24,"y":2,"v":-0.1},{"x":0,"y":3,"v":-0.1},{"x":1,"y":3,"v":0.1},{"x":2,"y":3,"v":-0.5,"s":"*"},{"x":3,"y":3,"v":0.3},{"x":4,"y":3,"v":0.1},{"x":5,"y":3,"v":0.1},{"x":6,"y":3,"v":-0.2},{"x":7,"y":3,"v":-0.2},{"x":8,"y":3,"v":0.1},{"x":9,"y":3,"v":-0.1},{"x":10,"y":3,"v":-0.3},{"x":11,"y":3,"v":0.1},{"x":12,"y":3,"v":0.7,"s":"**"},{"x":13,"y":3,"v":-0.3},{"x":14,"y":3,"v":0.1},{"x":15,"y":3,"v":0.2},{"x":16,"y":3,"v":-0.1},{"x":17,"y":3,"v":0.2},{"x":18,"y":3,"v":-0.5,"s":"*"},{"x":19,"y":3,"v":0.7,"s":"**"},{"x":20,"y":3,"v":0.5,"s":"*"},{"x":21,"y":3,"v":-0.5,"s":"*"},{"x":22,"y":3,"v":-0.2},{"x":23,"y":3,"v":0.2},{"x":24,"y":3,"v":-0.2},{"x":0,"y":4,"v":-0.1},{"x":1,"y":4,"v":0.1},{"x":2,"y":4,"v":0.2},{"x":3,"y":4,"v":-0.7,"s":"*"},{"x":4,"y":4,"v":0.1},{"x":5,"y":4,"v":-0.2},{"x":6,"y":4,"v":-0.3},{"x":7,"y":4,"v":-0.3},{"x":8,"y":4,"v":0.1},{"x":9,"y":4,"v":-0.1},{"x":10,"y":4,"v":-0.2},{"x":11,"y":4,"v":0.2},{"x":12,"y":4,"v":-0.1},{"x":13,"y":4,"v":0.2},{"x":14,"y":4,"v":0.1},{"x":15,"y":4,"v":0.2},{"x":16,"y":4,"v":0.7,"s":"**"},{"x":17,"y":4,"v":0.1},{"x":18,"y":4,"v":0.3},{"x":19,"y":4,"v":0.2},{"x":20,"y":4,"v":-0.3},{"x":21,"y":4,"v":-0.2},{"x":22,"y":4,"v":0.1},{"x":23,"y":4,"v":0.6,"s":"*"},{"x":24,"y":4,"v":-0.1},{"x":0,"y":5,"v":-0.1},{"x":1,"y":5,"v":0.1},{"x":2,"y":5,"v":0.2},{"x":3,"y":5,"v":-0.7,"s":"*"},{"x":4,"y":5,"v":0.2},{"x":5,"y":5,"v":-0.2},{"x":6,"y":5,"v":-0.3},{"x":7,"y":5,"v":-0.3},{"x":8,"y":5,"v":0.2},{"x":9,"y":5,"v":-0.1},{"x":10,"y":5,"v":-0.2},{"x":11,"y":5,"v":0.2},{"x":12,"y":5,"v":-0.1},{"x":13,"y":5,"v":0.2},{"x":14,"y":5,"v":0.2},{"x":15,"y":5,"v":0.2},{"x":16,"y":5,"v":0.9,"s":"**"},{"x":17,"y":5,"v":0.1},{"x":18,"y":5,"v":0.3},{"x":19,"y":5,"v":0.2},{"x":20,"y":5,"v":-0.3},{"x":21,"y":5,"v":-0.3},{"x":22,"y":5,"v":0.1},{"x":23,"y":5,"v":0.6,"s":"*"},{"x":24,"y":5,"v":-0.1},{"x":0,"y":6,"v":0.1},{"x":1,"y":6,"v":0.1},{"x":2,"y":6,"v":0.1},{"x":3,"y":6,"v":0.1},{"x":4,"y":6,"v":-0.2},{"x":5,"y":6,"v":0.1},{"x":6,"y":6,"v":-0.1},{"x":7,"y":6,"v":-0.2},{"x":8,"y":6,"v":0.2},{"x":9,"y":6,"v":0.1},{"x":10,"y":6,"v":-0.1},{"x":11,"y":6,"v":0.1},{"x":12,"y":6,"v":-0.1},{"x":13,"y":6,"v":0.2},{"x":14,"y":6,"v":0.1},{"x":15,"y":6,"v":0.1},{"x":16,"y":6,"v":0.1},{"x":17,"y":6,"v":0.1},{"x":18,"y":6,"v":0.1},{"x":19,"y":6,"v":0.2},{"x":20,"y":6,"v":-0.3},{"x":21,"y":6,"v":0.1},{"x":22,"y":6,"v":-0.5,"s":"*"},{"x":23,"y":6,"v":-0.1},{"x":24,"y":6,"v":-0.2},{"x":0,"y":7,"v":-0.1},{"x":1,"y":7,"v":0.1},{"x":2,"y":7,"v":0.6,"s":"*"},{"x":3,"y":7,"v":-0.4},{"x":4,"y":7,"v":0.1},{"x":5,"y":7,"v":0.1},{"x":6,"y":7,"v":-0.2},{"x":7,"y":7,"v":-0.2},{"x":8,"y":7,"v":0.1},{"x":9,"y":7,"v":0.1},{"x":10,"y":7,"v":0.5},{"x":11,"y":7,"v":-0.3},{"x":12,"y":7,"v":0.1},{"x":13,"y":7,"v":0.2},{"x":14,"y":7,"v":0.2},{"x":15,"y":7,"v":0.1},{"x":16,"y":7,"v":0.2},{"x":17,"y":7,"v":0.2},{"x":18,"y":7,"v":0.5},{"x":19,"y":7,"v":-0.5,"s":"*"},{"x":20,"y":7,"v":0.1},{"x":21,"y":7,"v":0.4},{"x":22,"y":7,"v":0.1},{"x":23,"y":7,"v":0.2},{"x":24,"y":7,"v":0.7,"s":"*"},{"x":0,"y":8,"v":-0.1},{"x":1,"y":8,"v":0.1},{"x":2,"y":8,"v":0.2},{"x":3,"y":8,"v":-0.7,"s":"*"},{"x":4,"y":8,"v":0.1},{"x":5,"y":8,"v":-0.2},{"x":6,"y":8,"v":-0.3},{"x":7,"y":8,"v":-0.3},{"x":8,"y":8,"v":0.1},{"x":9,"y":8,"v":-0.1},{"x":10,"y":8,"v":-0.2},{"x":11,"y":8,"v":0.2},{"x":12,"y":8,"v":-0.1},{"x":13,"y":8,"v":0.2},{"x":14,"y":8,"v":0.1},{"x":15,"y":8,"v":0.2},{"x":16,"y":8,"v":0.6,"s":"*"},{"x":17,"y":8,"v":0.1},{"x":18,"y":8,"v":0.3},{"x":19,"y":8,"v":0.2},{"x":20,"y":8,"v":-0.3},{"x":21,"y":8,"v":-0.2},{"x":22,"y":8,"v":0.1},{"x":23,"y":8,"v":0.6,"s":"*"},{"x":24,"y":8,"v":-0.1},{"x":0,"y":9,"v":0.1},{"x":1,"y":9,"v":0.2},{"x":2,"y":9,"v":0.5},{"x":3,"y":9,"v":-0.5,"s":"*"},{"x":4,"y":9,"v":-0.6,"s":"*"},{"x":5,"y":9,"v":-0.1},{"x":6,"y":9,"v":0.2},{"x":7,"y":9,"v":0.6,"s":"*"},{"x":8,"y":9,"v":-0.3},{"x":9,"y":9,"v":0.1},{"x":10,"y":9,"v":0.1},{"x":11,"y":9,"v":0.1},{"x":12,"y":9,"v":-0.2},{"x":13,"y":9,"v":0.2},{"x":14,"y":9,"v":0.1},{"x":15,"y":9,"v":0.1},{"x":16,"y":9,"v":-0.5,"s":"*"},{"x":17,"y":9,"v":0.1},{"x":18,"y":9,"v":0.2},{"x":19,"y":9,"v":0.1},{"x":20,"y":9,"v":-0.2},{"x":21,"y":9,"v":0.1},{"x":22,"y":9,"v":0.2},{"x":23,"y":9,"v":0.3},{"x":24,"y":9,"v":-0.1},{"x":0,"y":10,"v":0.1},{"x":1,"y":10,"v":0.1},{"x":2,"y":10,"v":-0.6,"s":"*"},{"x":3,"y":10,"v":-0.1},{"x":4,"y":10,"v":0.1},{"x":5,"y":10,"v":0.1},{"x":6,"y":10,"v":0.1},{"x":7,"y":10,"v":-0.1},{"x":8,"y":10,"v":0.1},{"x":9,"y":10,"v":0.1},{"x":10,"y":10,"v":-0.3},{"x":11,"y":10,"v":0.1},{"x":12,"y":10,"v":0.7,"s":"**"},{"x":13,"y":10,"v":0.2},{"x":14,"y":10,"v":0.1},{"x":15,"y":10,"v":0.2},{"x":16,"y":10,"v":-0.1},{"x":17,"y":10,"v":0.1},{"x":18,"y":10,"v":0.1},{"x":19,"y":10,"v":0.2},{"x":20,"y":10,"v":-0.2},{"x":21,"y":10,"v":0.1},{"x":22,"y":10,"v":-0.1},{"x":23,"y":10,"v":0.1},{"x":24,"y":10,"v":-0.2},{"x":0,"y":11,"v":0.7,"s":"*"},{"x":1,"y":11,"v":0.7,"s":"**"},{"x":2,"y":11,"v":-0.7,"s":"**"},{"x":3,"y":11,"v":0.1},{"x":4,"y":11,"v":0.1},{"x":5,"y":11,"v":-0.8,"s":"**"},{"x":6,"y":11,"v":0.2},{"x":7,"y":11,"v":0.1},{"x":8,"y":11,"v":0.1},{"x":9,"y":11,"v":-0.7,"s":"**"},{"x":10,"y":11,"v":0.2},{"x":11,"y":11,"v":0.1},{"x":12,"y":11,"v":0.5,"s":"*"},{"x":13,"y":11,"v":0.2},{"x":14,"y":11,"v":0.5,"s":"*"},{"x":15,"y":11,"v":0.1},{"x":16,"y":11,"v":-0.1},{"x":17,"y":11,"v":0.7,"s":"**"},{"x":18,"y":11,"v":0.2},{"x":19,"y":11,"v":0.1},{"x":20,"y":11,"v":0.2},{"x":21,"y":11,"v":0.1},{"x":22,"y":11,"v":0.2},{"x":23,"y":11,"v":-0.3},{"x":24,"y":11,"v":-0.3},{"x":0,"y":12,"v":-0.3},{"x":1,"y":12,"v":-0.7,"s":"**"},{"x":2,"y":12,"v":0.9,"s":"**"},{"x":3,"y":12,"v":-0.5,"s":"*"},{"x":4,"y":12,"v":0.5},{"x":5,"y":12,"v":0.6,"s":"*"},{"x":6,"y":12,"v":-0.2},{"x":7,"y":12,"v":0.1},{"x":8,"y":12,"v":0.1},{"x":9,"y":12,"v":0.5,"s":"*"},{"x":10,"y":12,"v":0.2},{"x":11,"y":12,"v":0.1},{"x":12,"y":12,"v":-0.5,"s":"*"},{"x":13,"y":12,"v":0.1},{"x":14,"y":12,"v":-0.5,"s":"*"},{"x":15,"y":12,"v":0.1},{"x":16,"y":12,"v":-0.5,"s":"*"},{"x":17,"y":12,"v":-0.7,"s":"**"},{"x":18,"y":12,"v":0.2},{"x":19,"y":12,"v":-0.7,"s":"**"},{"x":20,"y":12,"v":-0.5,"s":"*"},{"x":21,"y":12,"v":0.1},{"x":22,"y":12,"v":0.8,"s":"**"},{"x":23,"y":12,"v":0.3},{"x":24,"y":12,"v":-0.3},{"x":0,"y":13,"v":-0.1},{"x":1,"y":13,"v":0.1},{"x":2,"y":13,"v":0.2},{"x":3,"y":13,"v":-0.7,"s":"*"},{"x":4,"y":13,"v":0.1},{"x":5,"y":13,"v":-0.2},{"x":6,"y":13,"v":-0.3},{"x":7,"y":13,"v":-0.3},{"x":8,"y":13,"v":0.1},{"x":9,"y":13,"v":-0.1},{"x":10,"y":13,"v":-0.2},{"x":11,"y":13,"v":0.2},{"x":12,"y":13,"v":-0.1},{"x":13,"y":13,"v":0.2},{"x":14,"y":13,"v":0.1},{"x":15,"y":13,"v":0.2},{"x":16,"y":13,"v":0.7,"s":"**"},{"x":17,"y":13,"v":0.1},{"x":18,"y":13,"v":0.3},{"x":19,"y":13,"v":0.2},{"x":20,"y":13,"v":-0.3},{"x":21,"y":13,"v":-0.2},{"x":22,"y":13,"v":0.1},{"x":23,"y":13,"v":0.6,"s":"*"},{"x":24,"y":13,"v":-0.1},{"x":0,"y":14,"v":-0.1},{"x":1,"y":14,"v":0.1},{"x":2,"y":14,"v":0.2},{"x":3,"y":14,"v":-0.7,"s":"*"},{"x":4,"y":14,"v":0.2},{"x":5,"y":14,"v":-0.2},{"x":6,"y":14,"v":-0.3},{"x":7,"y":14,"v":-0.3},{"x":8,"y":14,"v":0.2},{"x":9,"y":14,"v":-0.1},{"x":10,"y":14,"v":-0.2},{"x":11,"y":14,"v":0.2},{"x":12,"y":14,"v":-0.1},{"x":13,"y":14,"v":0.2},{"x":14,"y":14,"v":0.2},{"x":15,"y":14,"v":0.2},{"x":16,"y":14,"v":0.9,"s":"**"},{"x":17,"y":14,"v":0.1},{"x":18,"y":14,"v":0.3},{"x":19,"y":14,"v":0.2},{"x":20,"y":14,"v":-0.3},{"x":21,"y":14,"v":-0.3},{"x":22,"y":14,"v":0.1},{"x":23,"y":14,"v":0.6,"s":"*"},{"x":24,"y":14,"v":-0.1},{"x":0,"y":15,"v":0.8,"s":"**"},{"x":1,"y":15,"v":0.4},{"x":2,"y":15,"v":0.1},{"x":3,"y":15,"v":0.6,"s":"*"},{"x":4,"y":15,"v":0.1},{"x":5,"y":15,"v":0.1},{"x":6,"y":15,"v":0.1},{"x":7,"y":15,"v":-0.1},{"x":8,"y":15,"v":0.2},{"x":9,"y":15,"v":0.1},{"x":10,"y":15,"v":-0.1},{"x":11,"y":15,"v":0.3},{"x":12,"y":15,"v":0.5,"s":"*"},{"x":13,"y":15,"v":0.1},{"x":14,"y":15,"v":0.5,"s":"*"},{"x":15,"y":15,"v":0.8,"s":"**"},{"x":16,"y":15,"v":0.1},{"x":17,"y":15,"v":0.6,"s":"*"},{"x":18,"y":15,"v":0.1},{"x":19,"y":15,"v":0.2},{"x":20,"y":15,"v":0.1},{"x":21,"y":15,"v":0.2},{"x":22,"y":15,"v":-0.5,"s":"*"},{"x":23,"y":15,"v":-0.5,"s":"*"},{"x":24,"y":15,"v":0.1},{"x":0,"y":16,"v":-0.2},{"x":1,"y":16,"v":-0.3},{"x":2,"y":16,"v":0.1},{"x":3,"y":16,"v":0.3},{"x":4,"y":16,"v":-0.5,"s":"*"},{"x":5,"y":16,"v":0.1},{"x":6,"y":16,"v":0.5,"s":"*"},{"x":7,"y":16,"v":0.7,"s":"*"},{"x":8,"y":16,"v":0.1},{"x":9,"y":16,"v":-0.2},{"x":10,"y":16,"v":0.3},{"x":11,"y":16,"v":0.1},{"x":12,"y":16,"v":0.2},{"x":13,"y":16,"v":0.2},{"x":14,"y":16,"v":0.1},{"x":15,"y":16,"v":0.1},{"x":16,"y":16,"v":-0.5,"s":"*"},{"x":17,"y":16,"v":0.1},{"x":18,"y":16,"v":0.6,"s":"*"},{"x":19,"y":16,"v":0.1},{"x":20,"y":16,"v":0.1},{"x":21,"y":16,"v":0.5,"s":"*"},{"x":22,"y":16,"v":0.1},{"x":23,"y":16,"v":-0.5,"s":"*"},{"x":24,"y":16,"v":0.1},{"x":0,"y":17,"v":-0.2},{"x":1,"y":17,"v":-0.2},{"x":2,"y":17,"v":0.1},{"x":3,"y":17,"v":0.2},{"x":4,"y":17,"v":0.2},{"x":5,"y":17,"v":-0.1},{"x":6,"y":17,"v":-0.1},{"x":7,"y":17,"v":0.2},{"x":8,"y":17,"v":0.1},{"x":9,"y":17,"v":-0.1},{"x":10,"y":17,"v":0.3},{"x":11,"y":17,"v":0.3},{"x":12,"y":17,"v":0.1},{"x":13,"y":17,"v":0.2},{"x":14,"y":17,"v":0.1},{"x":15,"y":17,"v":0.1},{"x":16,"y":17,"v":-0.1},{"x":17,"y":17,"v":-0.5,"s":"*"},{"x":18,"y":17,"v":0.1},{"x":19,"y":17,"v":-0.3},{"x":20,"y":17,"v":0.1},{"x":21,"y":17,"v":0.1},{"x":22,"y":17,"v":0.2},{"x":23,"y":17,"v":0.2},{"x":24,"y":17,"v":-0.7,"s":"*"},{"x":0,"y":18,"v":0.1},{"x":1,"y":18,"v":0.2},{"x":2,"y":18,"v":0.1},{"x":3,"y":18,"v":0.4},{"x":4,"y":18,"v":0.1},{"x":5,"y":18,"v":0.1},{"x":6,"y":18,"v":0.1},{"x":7,"y":18,"v":0.1},{"x":8,"y":18,"v":0.1},{"x":9,"y":18,"v":0.1},{"x":10,"y":18,"v":0.2},{"x":11,"y":18,"v":0.1},{"x":12,"y":18,"v":0.6,"s":"*"},{"x":13,"y":18,"v":0.1},{"x":14,"y":18,"v":0.2},{"x":15,"y":18,"v":0.2},{"x":16,"y":18,"v":0.1},{"x":17,"y":18,"v":0.1},{"x":18,"y":18,"v":-0.4},{"x":19,"y":18,"v":0.2},{"x":20,"y":18,"v":0.2},{"x":21,"y":18,"v":0.3},{"x":22,"y":18,"v":-0.2},{"x":23,"y":18,"v":0.2},{"x":24,"y":18,"v":0.1},{"x":0,"y":19,"v":0.4},{"x":1,"y":19,"v":0.2},{"x":2,"y":19,"v":-0.7,"s":"**"},{"x":3,"y":19,"v":0.5,"s":"*"},{"x":4,"y":19,"v":0.1},{"x":5,"y":19,"v":0.2},{"x":6,"y":19,"v":0.1},{"x":7,"y":19,"v":0.1},{"x":8,"y":19,"v":0.2},{"x":9,"y":19,"v":-0.5,"s":"*"},{"x":10,"y":19,"v":0.3},{"x":11,"y":19,"v":0.1},{"x":12,"y":19,"v":0.8,"s":"**"},{"x":13,"y":19,"v":0.2},{"x":14,"y":19,"v":0.2},{"x":15,"y":19,"v":0.2},{"x":16,"y":19,"v":-0.1},{"x":17,"y":19,"v":0.2},{"x":18,"y":19,"v":-0.4},{"x":19,"y":19,"v":0.3},{"x":20,"y":19,"v":0.6,"s":"*"},{"x":21,"y":19,"v":0.3},{"x":22,"y":19,"v":-0.5,"s":"*"},{"x":23,"y":19,"v":0.1},{"x":24,"y":19,"v":0.1},{"x":0,"y":20,"v":-0.3},{"x":1,"y":20,"v":-0.7,"s":"**"},{"x":2,"y":20,"v":0.9,"s":"**"},{"x":3,"y":20,"v":-0.5,"s":"*"},{"x":4,"y":20,"v":0.5},{"x":5,"y":20,"v":0.6,"s":"*"},{"x":6,"y":20,"v":-0.2},{"x":7,"y":20,"v":0.1},{"x":8,"y":20,"v":0.1},{"x":9,"y":20,"v":0.5,"s":"*"},{"x":10,"y":20,"v":0.2},{"x":11,"y":20,"v":0.1},{"x":12,"y":20,"v":-0.5,"s":"*"},{"x":13,"y":20,"v":0.1},{"x":14,"y":20,"v":-0.5,"s":"*"},{"x":15,"y":20,"v":0.1},{"x":16,"y":20,"v":-0.5,"s":"*"},{"x":17,"y":20,"v":-0.7,"s":"**"},{"x":18,"y":20,"v":0.2},{"x":19,"y":20,"v":-0.7,"s":"**"},{"x":20,"y":20,"v":-0.5,"s":"*"},{"x":21,"y":20,"v":0.1},{"x":22,"y":20,"v":0.8,"s":"**"},{"x":23,"y":20,"v":0.3},{"x":24,"y":20,"v":-0.3},{"x":0,"y":21,"v":-0.1},{"x":1,"y":21,"v":0.1},{"x":2,"y":21,"v":0.2},{"x":3,"y":21,"v":-0.7,"s":"*"},{"x":4,"y":21,"v":0.1},{"x":5,"y":21,"v":-0.2},{"x":6,"y":21,"v":-0.3},{"x":7,"y":21,"v":-0.3},{"x":8,"y":21,"v":0.1},{"x":9,"y":21,"v":-0.1},{"x":10,"y":21,"v":-0.2},{"x":11,"y":21,"v":0.2},{"x":12,"y":21,"v":-0.1},{"x":13,"y":21,"v":0.2},{"x":14,"y":21,"v":0.1},{"x":15,"y":21,"v":0.2},{"x":16,"y":21,"v":0.8,"s":"**"},{"x":17,"y":21,"v":0.1},{"x":18,"y":21,"v":0.3},{"x":19,"y":21,"v":0.2},{"x":20,"y":21,"v":-0.4},{"x":21,"y":21,"v":-0.2},{"x":22,"y":21,"v":0.1},{"x":23,"y":21,"v":0.6,"s":"*"},{"x":24,"y":21,"v":-0.1},{"x":0,"y":22,"v":-0.4},{"x":1,"y":22,"v":-0.2},{"x":2,"y":22,"v":0.1},{"x":3,"y":22,"v":0.4},{"x":4,"y":22,"v":-0.5,"s":"*"},{"x":5,"y":22,"v":0.1},{"x":6,"y":22,"v":-0.2},{"x":7,"y":22,"v":0.9,"s":"**"},{"x":8,"y":22,"v":-0.3},{"x":9,"y":22,"v":0.3},{"x":10,"y":22,"v":0.7,"s":"*"},{"x":11,"y":22,"v":-0.2},{"x":12,"y":22,"v":0.2},{"x":13,"y":22,"v":0.2},{"x":14,"y":22,"v":-0.2},{"x":15,"y":22,"v":0.2},{"x":16,"y":22,"v":-0.5,"s":"*"},{"x":17,"y":22,"v":0.1},{"x":18,"y":22,"v":0.7,"s":"*"},{"x":19,"y":22,"v":-0.1},{"x":20,"y":22,"v":0.3},{"x":21,"y":22,"v":0.7,"s":"*"},{"x":22,"y":22,"v":-0.2},{"x":23,"y":22,"v":-0.3},{"x":24,"y":22,"v":-0.1},{"x":0,"y":23,"v":0.1},{"x":1,"y":23,"v":0.1},{"x":2,"y":23,"v":0.1},{"x":3,"y":23,"v":0.5},{"x":4,"y":23,"v":-0.3},{"x":5,"y":23,"v":0.1},{"x":6,"y":23,"v":-0.4},{"x":7,"y":23,"v":0.2},{"x":8,"y":23,"v":-0.2},{"x":9,"y":23,"v":0.2},{"x":10,"y":23,"v":0.1},{"x":11,"y":23,"v":0.1},{"x":12,"y":23,"v":0.1},{"x":13,"y":23,"v":0.2},{"x":14,"y":23,"v":-0.1},{"x":15,"y":23,"v":0.6,"s":"*"},{"x":16,"y":23,"v":0.1},{"x":17,"y":23,"v":0.1},{"x":18,"y":23,"v":0.1},{"x":19,"y":23,"v":0.1},{"x":20,"y":23,"v":0.1},{"x":21,"y":23,"v":0.1},{"x":22,"y":23,"v":-0.2},{"x":23,"y":23,"v":0.1},{"x":24,"y":23,"v":0.1},{"x":0,"y":24,"v":-0.4},{"x":1,"y":24,"v":-0.2},{"x":2,"y":24,"v":0.1},{"x":3,"y":24,"v":0.4},{"x":4,"y":24,"v":-0.5,"s":"*"},{"x":5,"y":24,"v":0.1},{"x":6,"y":24,"v":-0.2},{"x":7,"y":24,"v":0.9,"s":"**"},{"x":8,"y":24,"v":-0.3},{"x":9,"y":24,"v":0.3},{"x":10,"y":24,"v":0.7,"s":"*"},{"x":11,"y":24,"v":-0.2},{"x":12,"y":24,"v":0.2},{"x":13,"y":24,"v":0.2},{"x":14,"y":24,"v":-0.2},{"x":15,"y":24,"v":0.2},{"x":16,"y":24,"v":-0.5,"s":"*"},{"x":17,"y":24,"v":0.1},{"x":18,"y":24,"v":0.7,"s":"*"},{"x":19,"y":24,"v":-0.1},{"x":20,"y":24,"v":0.3},{"x":21,"y":24,"v":0.7,"s":"*"},{"x":22,"y":24,"v":-0.2},{"x":23,"y":24,"v":-0.3},{"x":24,"y":24,"v":-0.1},{"x":0,"y":25,"v":-0.1},{"x":1,"y":25,"v":-0.2},{"x":2,"y":25,"v":0.6,"s":"*"},{"x":3,"y":25,"v":0.1},{"x":4,"y":25,"v":-0.4},{"x":5,"y":25,"v":0.3},{"x":6,"y":25,"v":-0.3},{"x":7,"y":25,"v":0.1},{"x":8,"y":25,"v":0.4},{"x":9,"y":25,"v":-0.1},{"x":10,"y":25,"v":-0.1},{"x":11,"y":25,"v":0.1},{"x":12,"y":25,"v":0.1},{"x":13,"y":25,"v":-0.1},{"x":14,"y":25,"v":-0.1},{"x":15,"y":25,"v":0.7,"s":"*"},{"x":16,"y":25,"v":-0.2},{"x":17,"y":25,"v":0.1},{"x":18,"y":25,"v":-0.4},{"x":19,"y":25,"v":-0.1},{"x":20,"y":25,"v":0.2},{"x":21,"y":25,"v":0.3},{"x":22,"y":25,"v":-0.2},{"x":23,"y":25,"v":0.1},{"x":24,"y":25,"v":0.7,"s":"*"},{"x":0,"y":26,"v":-0.1},{"x":1,"y":26,"v":0.1},{"x":2,"y":26,"v":0.1},{"x":3,"y":26,"v":0.5},{"x":4,"y":26,"v":-0.2},{"x":5,"y":26,"v":0.1},{"x":6,"y":26,"v":-0.4},{"x":7,"y":26,"v":0.2},{"x":8,"y":26,"v":-0.2},{"x":9,"y":26,"v":0.2},{"x":10,"y":26,"v":0.1},{"x":11,"y":26,"v":0.1},{"x":12,"y":26,"v":0.1},{"x":13,"y":26,"v":0.2},{"x":14,"y":26,"v":-0.1},{"x":15,"y":26,"v":0.6,"s":"*"},{"x":16,"y":26,"v":0.1},{"x":17,"y":26,"v":0.1},{"x":18,"y":26,"v":0.1},{"x":19,"y":26,"v":0.1},{"x":20,"y":26,"v":0.1},{"x":21,"y":26,"v":0.1},{"x":22,"y":26,"v":-0.2},{"x":23,"y":26,"v":0.1},{"x":24,"y":26,"v":0.1},{"x":0,"y":27,"v":-0.1},{"x":1,"y":27,"v":-0.2},{"x":2,"y":27,"v":0.6,"s":"*"},{"x":3,"y":27,"v":0.1},{"x":4,"y":27,"v":-0.3},{"x":5,"y":27,"v":0.3},{"x":6,"y":27,"v":-0.3},{"x":7,"y":27,"v":0.1},{"x":8,"y":27,"v":0.4},{"x":9,"y":27,"v":-0.1},{"x":10,"y":27,"v":-0.1},{"x":11,"y":27,"v":0.1},{"x":12,"y":27,"v":0.1},{"x":13,"y":27,"v":-0.1},{"x":14,"y":27,"v":-0.1},{"x":15,"y":27,"v":0.7,"s":"*"},{"x":16,"y":27,"v":-0.2},{"x":17,"y":27,"v":0.1},{"x":18,"y":27,"v":-0.4},{"x":19,"y":27,"v":-0.1},{"x":20,"y":27,"v":0.2},{"x":21,"y":27,"v":0.3},{"x":22,"y":27,"v":-0.2},{"x":23,"y":27,"v":0.1},{"x":24,"y":27,"v":0.7,"s":"*"},{"x":0,"y":28,"v":0.2},{"x":1,"y":28,"v":-0.1},{"x":2,"y":28,"v":-0.1},{"x":3,"y":28,"v":0.1},{"x":4,"y":28,"v":0.7,"s":"**"},{"x":5,"y":28,"v":-0.1},{"x":6,"y":28,"v":-0.1},{"x":7,"y":28,"v":0.1},{"x":8,"y":28,"v":0.6,"s":"*"},{"x":9,"y":28,"v":0.3},{"x":10,"y":28,"v":0.1},{"x":11,"y":28,"v":0.1},{"x":12,"y":28,"v":0.1},{"x":13,"y":28,"v":-0.1},{"x":14,"y":28,"v":-0.1},{"x":15,"y":28,"v":0.5},{"x":16,"y":28,"v":0.1},{"x":17,"y":28,"v":0.2},{"x":18,"y":28,"v":0.3},{"x":19,"y":28,"v":-0.1},{"x":20,"y":28,"v":-0.1},{"x":21,"y":28,"v":0.2},{"x":22,"y":28,"v":-0.1},{"x":23,"y":28,"v":0.4},{"x":24,"y":28,"v":-0.7,"s":"*"},{"x":0,"y":29,"v":-0.2},{"x":1,"y":29,"v":-0.1},{"x":2,"y":29,"v":0.1},{"x":3,"y":29,"v":0.3},{"x":4,"y":29,"v":-0.5,"s":"*"},{"x":5,"y":29,"v":0.1},{"x":6,"y":29,"v":-0.2},{"x":7,"y":29,"v":0.8,"s":"**"},{"x":8,"y":29,"v":-0.3},{"x":9,"y":29,"v":0.3},{"x":10,"y":29,"v":0.7,"s":"*"},{"x":11,"y":29,"v":-0.2},{"x":12,"y":29,"v":0.1},{"x":13,"y":29,"v":-0.2},{"x":14,"y":29,"v":-0.2},{"x":15,"y":29,"v":0.2},{"x":16,"y":29,"v":-0.5,"s":"*"},{"x":17,"y":29,"v":0.1},{"x":18,"y":29,"v":0.7,"s":"*"},{"x":19,"y":29,"v":-0.1},{"x":20,"y":29,"v":-0.3},{"x":21,"y":29,"v":0.7,"s":"*"},{"x":22,"y":29,"v":-0.2},{"x":23,"y":29,"v":-0.3},{"x":24,"y":29,"v":-0.1},{"x":0,"y":30,"v":-0.3},{"x":1,"y":30,"v":-0.5,"s":"*"},{"x":2,"y":30,"v":-0.1},{"x":3,"y":30,"v":0.3},{"x":4,"y":30,"v":-0.5,"s":"*"},{"x":5,"y":30,"v":0.1},{"x":6,"y":30,"v":-0.1},{"x":7,"y":30,"v":0.2},{"x":8,"y":30,"v":-0.2},{"x":9,"y":30,"v":0.2},{"x":10,"y":30,"v":-0.2},{"x":11,"y":30,"v":-0.1},{"x":12,"y":30,"v":0.1},{"x":13,"y":30,"v":-0.2},{"x":14,"y":30,"v":-0.2},{"x":15,"y":30,"v":0.2},{"x":16,"y":30,"v":-0.6,"s":"*"},{"x":17,"y":30,"v":-0.5,"s":"*"},{"x":18,"y":30,"v":0.2},{"x":19,"y":30,"v":-0.5,"s":"*"},{"x":20,"y":30,"v":0.1},{"x":21,"y":30,"v":0.6,"s":"*"},{"x":22,"y":30,"v":0.3},{"x":23,"y":30,"v":-0.2},{"x":24,"y":30,"v":-0.1},{"x":0,"y":31,"v":-0.1},{"x":1,"y":31,"v":0.1},{"x":2,"y":31,"v":0.1},{"x":3,"y":31,"v":0.5},{"x":4,"y":31,"v":-0.2},{"x":5,"y":31,"v":0.1},{"x":6,"y":31,"v":-0.4},{"x":7,"y":31,"v":0.2},{"x":8,"y":31,"v":-0.2},{"x":9,"y":31,"v":0.2},{"x":10,"y":31,"v":0.1},{"x":11,"y":31,"v":0.1},{"x":12,"y":31,"v":0.1},{"x":13,"y":31,"v":0.2},{"x":14,"y":31,"v":-0.1},{"x":15,"y":31,"v":0.6,"s":"*"},{"x":16,"y":31,"v":0.1},{"x":17,"y":31,"v":0.1},{"x":18,"y":31,"v":0.1},{"x":19,"y":31,"v":0.1},{"x":20,"y":31,"v":0.1},{"x":21,"y":31,"v":0.1},{"x":22,"y":31,"v":-0.2},{"x":23,"y":31,"v":0.1},{"x":24,"y":31,"v":0.1},{"x":0,"y":32,"v":-0.2},{"x":1,"y":32,"v":-0.1},{"x":2,"y":32,"v":0.1},{"x":3,"y":32,"v":0.3},{"x":4,"y":32,"v":-0.5,"s":"*"},{"x":5,"y":32,"v":0.1},{"x":6,"y":32,"v":-0.2},{"x":7,"y":32,"v":0.8,"s":"**"},{"x":8,"y":32,"v":-0.3},{"x":9,"y":32,"v":0.3},{"x":10,"y":32,"v":0.7,"s":"*"},{"x":11,"y":32,"v":-0.2},{"x":12,"y":32,"v":0.1},{"x":13,"y":32,"v":-0.2},{"x":14,"y":32,"v":-0.2},{"x":15,"y":32,"v":0.2},{"x":16,"y":32,"v":-0.5,"s":"*"},{"x":17,"y":32,"v":0.1},{"x":18,"y":32,"v":0.7,"s":"*"},{"x":19,"y":32,"v":-0.1},{"x":20,"y":32,"v":-0.3},{"x":21,"y":32,"v":0.7,"s":"*"},{"x":22,"y":32,"v":-0.2},{"x":23,"y":32,"v":-0.3},{"x":24,"y":32,"v":-0.1},{"x":0,"y":33,"v":-0.3},{"x":1,"y":33,"v":-0.5,"s":"*"},{"x":2,"y":33,"v":-0.1},{"x":3,"y":33,"v":0.3},{"x":4,"y":33,"v":-0.5,"s":"*"},{"x":5,"y":33,"v":0.1},{"x":6,"y":33,"v":-0.1},{"x":7,"y":33,"v":0.2},{"x":8,"y":33,"v":-0.2},{"x":9,"y":33,"v":0.2},{"x":10,"y":33,"v":-0.2},{"x":11,"y":33,"v":-0.1},{"x":12,"y":33,"v":0.1},{"x":13,"y":33,"v":-0.2},{"x":14,"y":33,"v":-0.2},{"x":15,"y":33,"v":0.2},{"x":16,"y":33,"v":-0.6,"s":"*"},{"x":17,"y":33,"v":-0.5,"s":"*"},{"x":18,"y":33,"v":0.2},{"x":19,"y":33,"v":-0.5,"s":"*"},{"x":20,"y":33,"v":0.1},{"x":21,"y":33,"v":0.6,"s":"*"},{"x":22,"y":33,"v":0.3},{"x":23,"y":33,"v":-0.2},{"x":24,"y":33,"v":-0.1},{"x":0,"y":34,"v":-0.1},{"x":1,"y":34,"v":0.6},{"x":2,"y":34,"v":0.1},{"x":3,"y":34,"v":0.5},{"x":4,"y":34,"v":-0.3},{"x":5,"y":34,"v":-0.4},{"x":6,"y":34,"v":0.1},{"x":7,"y":34,"v":0.3},{"x":8,"y":34,"v":0.2},{"x":9,"y":34,"v":0.1},{"x":10,"y":34,"v":-0.1},{"x":11,"y":34,"v":0.2},{"x":12,"y":34,"v":0.2},{"x":13,"y":34,"v":0.1},{"x":14,"y":34,"v":0.1},{"x":15,"y":34,"v":0.1},{"x":16,"y":34,"v":-0.1},{"x":17,"y":34,"v":0.7,"s":"*"},{"x":18,"y":34,"v":0.1},{"x":19,"y":34,"v":0.1},{"x":20,"y":34,"v":0.1},{"x":21,"y":34,"v":0.1},{"x":22,"y":34,"v":-0.2},{"x":23,"y":34,"v":-0.2},{"x":24,"y":34,"v":0.1},{"x":0,"y":35,"v":-0.1},{"x":1,"y":35,"v":0.1},{"x":2,"y":35,"v":0.1},{"x":3,"y":35,"v":0.5},{"x":4,"y":35,"v":-0.2},{"x":5,"y":35,"v":0.1},{"x":6,"y":35,"v":-0.4},{"x":7,"y":35,"v":0.2},{"x":8,"y":35,"v":-0.2},{"x":9,"y":35,"v":0.2},{"x":10,"y":35,"v":0.1},{"x":11,"y":35,"v":0.1},{"x":12,"y":35,"v":0.1},{"x":13,"y":35,"v":0.2},{"x":14,"y":35,"v":-0.1},{"x":15,"y":35,"v":0.6,"s":"*"},{"x":16,"y":35,"v":0.1},{"x":17,"y":35,"v":0.1},{"x":18,"y":35,"v":0.1},{"x":19,"y":35,"v":0.1},{"x":20,"y":35,"v":0.1},{"x":21,"y":35,"v":0.1},{"x":22,"y":35,"v":-0.2},{"x":23,"y":35,"v":0.1},{"x":24,"y":35,"v":0.1},{"x":0,"y":36,"v":-0.3},{"x":1,"y":36,"v":-0.6,"s":"*"},{"x":2,"y":36,"v":0.6},{"x":3,"y":36,"v":0.1},{"x":4,"y":36,"v":-0.1},{"x":5,"y":36,"v":0.5},{"x":6,"y":36,"v":0.1},{"x":7,"y":36,"v":0.1},{"x":8,"y":36,"v":0.3},{"x":9,"y":36,"v":0.1},{"x":10,"y":36,"v":0.1},{"x":11,"y":36,"v":0.1},{"x":12,"y":36,"v":-0.6,"s":"*"},{"x":13,"y":36,"v":0.1},{"x":14,"y":36,"v":-0.2},{"x":15,"y":36,"v":0.2},{"x":16,"y":36,"v":-0.4},{"x":17,"y":36,"v":-0.8,"s":"**"},{"x":18,"y":36,"v":0.1},{"x":19,"y":36,"v":-0.6,"s":"*"},{"x":20,"y":36,"v":0.1},{"x":21,"y":36,"v":0.6},{"x":22,"y":36,"v":0.5},{"x":23,"y":36,"v":-0.1},{"x":24,"y":36,"v":-0.1},{"x":0,"y":37,"v":-0.4},{"x":1,"y":37,"v":-0.2},{"x":2,"y":37,"v":0.1},{"x":3,"y":37,"v":0.3},{"x":4,"y":37,"v":-0.6,"s":"*"},{"x":5,"y":37,"v":0.1},{"x":6,"y":37,"v":-0.2},{"x":7,"y":37,"v":0.9,"s":"**"},{"x":8,"y":37,"v":-0.3},{"x":9,"y":37,"v":0.3},{"x":10,"y":37,"v":0.8,"s":"**"},{"x":11,"y":37,"v":-0.2},{"x":12,"y":37,"v":0.1},{"x":13,"y":37,"v":-0.2},{"x":14,"y":37,"v":-0.2},{"x":15,"y":37,"v":0.2},{"x":16,"y":37,"v":-0.6,"s":"*"},{"x":17,"y":37,"v":0.1},{"x":18,"y":37,"v":0.8,"s":"*"},{"x":19,"y":37,"v":-0.1},{"x":20,"y":37,"v":-0.3},{"x":21,"y":37,"v":0.7,"s":"*"},{"x":22,"y":37,"v":-0.2},{"x":23,"y":37,"v":-0.3},{"x":24,"y":37,"v":-0.1},{"x":0,"y":38,"v":-0.2},{"x":1,"y":38,"v":-0.2},{"x":2,"y":38,"v":-0.2},{"x":3,"y":38,"v":0.2},{"x":4,"y":38,"v":-0.4},{"x":5,"y":38,"v":-0.2},{"x":6,"y":38,"v":-0.2},{"x":7,"y":38,"v":0.1},{"x":8,"y":38,"v":0.2},{"x":9,"y":38,"v":-0.4},{"x":10,"y":38,"v":-0.2},{"x":11,"y":38,"v":0.1},{"x":12,"y":38,"v":0.1},{"x":13,"y":38,"v":0.4},{"x":14,"y":38,"v":0.1},{"x":15,"y":38,"v":0.1},{"x":16,"y":38,"v":0.2},{"x":17,"y":38,"v":-0.1},{"x":18,"y":38,"v":0.2},{"x":19,"y":38,"v":-0.2},{"x":20,"y":38,"v":0.1},{"x":21,"y":38,"v":0.2},{"x":22,"y":38,"v":-0.2},{"x":23,"y":38,"v":0.3},{"x":24,"y":38,"v":0.1},{"x":0,"y":39,"v":-0.1},{"x":1,"y":39,"v":0.3},{"x":2,"y":39,"v":0.1},{"x":3,"y":39,"v":0.3},{"x":4,"y":39,"v":-0.4},{"x":5,"y":39,"v":0.1},{"x":6,"y":39,"v":0.1},{"x":7,"y":39,"v":0.1},{"x":8,"y":39,"v":0.3},{"x":9,"y":39,"v":0.2},{"x":10,"y":39,"v":0.1},{"x":11,"y":39,"v":0.1},{"x":12,"y":39,"v":-0.6},{"x":13,"y":39,"v":0.3},{"x":14,"y":39,"v":0.1},{"x":15,"y":39,"v":0.1},{"x":16,"y":39,"v":0.3},{"x":17,"y":39,"v":0.2},{"x":18,"y":39,"v":0.4},{"x":19,"y":39,"v":-0.3},{"x":20,"y":39,"v":0.1},{"x":21,"y":39,"v":0.3},{"x":22,"y":39,"v":-0.1},{"x":23,"y":39,"v":0.3},{"x":24,"y":39,"v":-0.1}],"sp":[{"k":0}]},"vconcat":[{"hconcat":[{"data":{"name":"sp"},"width":1,"height":1,"mark":{"type":"point","opacity":0,"size":1},"encoding":{}},{"title":{"text":"(A) *P < 0.05 **P < 0.01","dx":-175,"offset":5},"width":320,"height":346,"data":{"name":"a"},"layer":[{"mark":"rect","encoding":{"x":{"field":"x","type":"ordinal","scale":{"paddingInner":0,"paddingOuter":0},"axis":{"labelAngle":-45,"labelAlign":"right","labelBaseline":"middle","labelFontSize":6.5,"labelFontStyle":"italic","labelColor":"#555555","labelLimit":300,"labelExpr":"tax[datum.value]"}},"y":{"field":"y","type":"ordinal","scale":{"paddingInner":0,"paddingOuter":0},"axis":{"labelFontSize":9.5,"labelExpr":"idx[datum.value]"}},"color":{"field":"v","type":"quantitative","scale":{"domain":[-1,0,1],"range":["#7fc7bc","#ffffff","#ff7f5c"],"interpolate":"rgb"},"legend":{"legendX":348,"legendY":0,"gradientLength":122,"gradientThickness":14,"labelFontSize":8,"values":[-1,-0.5,0,0.5,1],"format":".1~f"}}}},{"transform":[{"filter":"datum.s"}],"mark":{"type":"text","fontSize":9},"encoding":{"x":{"field":"x","type":"ordinal"},"y":{"field":"y","type":"ordinal"},"text":{"field":"s"}}}]}],"spacing":0,"resolve":{"scale":{"color":"independent"}}},{"data":{"name":"sp"},"width":1,"height":30,"mark":{"type":"point","opacity":0,"size":1},"encoding":{}},{"hconcat":[{"hconcat":[{"data":{"name":"sp"},"width":1,"height":1,"mark":{"type":"point","opacity":0,"size":1},"encoding":{}},{"title":{"text":"(B) POS *P < 0.05 **P < 0.01","dx":-45,"offset":16},"width":251,"height":273,"data":{"name":"b"},"layer":[{"mark":"rect","encoding":{"x":{"field":"x","type":"ordinal","scale":{"paddingInner":0,"paddingOuter":0},"axis":{"labelAngle":-45,"labelAlign":"right","labelBaseline":"middle","labelFontSize":4.5,"labelFontStyle":"italic","labelColor":"#555555","labelLimit":300,"labelExpr":"pos[datum.value]"}},"y":{"field":"y","type":"ordinal","scale":{"paddingInner":0,"paddingOuter":0},"axis":{"labelFontSize":7,"labelExpr":"idx[datum.value]"}},"color":{"field":"v","type":"quantitative","scale":{"domain":[-1,0,1],"range":["#0000ff","#ffffff","#ff0000"],"interpolate":"rgb"},"legend":{"legendX":273,"legendY":1,"gradientLength":96,"gradientThickness":9,"labelFontSize":6.5,"values":[-1,-0.5,0,0.5,1],"format":".1~f"}}}},{"transform":[{"filter":"datum.s"}],"mark":{"type":"text","fontSize":6.5},"encoding":{"x":{"field":"x","type":"ordinal"},"y":{"field":"y","type":"ordinal"},"text":{"field":"s"}}}]}],"spacing":0,"resolve":{"scale":{"color":"independent"}}},{"title":{"text":"(C) NEG *P < 0.05 **P < 0.01","dx":-30,"offset":16},"width":243,"height":264,"data":{"name":"c"},"layer":[{"mark":"rect","encoding":{"x":{"field":"x","type":"ordinal","scale":{"paddingInner":0,"paddingOuter":0},"axis":{"labelAngle":-45,"labelAlign":"right","labelBaseline":"middle","labelFontSize":4.5,"labelFontStyle":"italic","labelColor":"#555555","labelLimit":300,"labelExpr":"neg[datum.value]"}},"y":{"field":"y","type":"ordinal","scale":{"paddingInner":0,"paddingOuter":0},"axis":{"labelFontSize":7,"labelExpr":"idx[datum.value]"}},"color":{"field":"v","type":"quantitative","scale":{"domain":[-1,0,1],"range":["#0000ff","#ffffff","#ff0000"],"interpolate":"rgb"},"legend":{"legendX":266,"legendY":1,"gradientLength":92,"gradientThickness":9,"labelFontSize":6.5,"values":[-1,-0.5,0,0.5,1],"format":".1~f"}}}},{"transform":[{"filter":"datum.s"}],"mark":{"type":"text","fontSize":6.5},"encoding":{"x":{"field":"x","type":"ordinal"},"y":{"field":"y","type":"ordinal"},"text":{"field":"s"}}}]}],"spacing":22,"resolve":{"scale":{"color":"independent"}}},{"data":{"name":"sp"},"width":1,"height":22,"mark":{"type":"point","opacity":0,"size":1},"encoding":{}},{"hconcat":[{"hconcat":[{"data":{"name":"sp"},"width":1,"height":1,"mark":{"type":"point","opacity":0,"size":1},"encoding":{}},{"title":{"text":"(D) POS *P < 0.05 **P < 0.01","dx":-77,"offset":14},"width":224,"height":243,"data":{"name":"d"},"layer":[{"mark":{"type":"rect","strokeWidth":0.9},"encoding":{"x":{"field":"x","type":"ordinal","scale":{"paddingInner":0,"paddingOuter":0},"axis":{"labelAngle":-45,"labelAlign":"right","labelBaseline":"middle","labelFontSize":3.9,"labelFontStyle":"italic","labelColor":"#555555","labelLimit":300,"labelExpr":"pos[datum.value]"}},"y":{"field":"y","type":"ordinal","scale":{"paddingInner":0,"paddingOuter":0},"axis":{"labelFontSize":4.3,"labelFontStyle":"italic","tickSize":2,"labelExpr":"tax[datum.value]"}},"color":{"field":"v","type":"quantitative","scale":{"domain":[-1,1],"scheme":"redblue"},"legend":{"legendX":244,"legendY":0,"gradientLength":85,"gradientThickness":9,"labelFontSize":6.5,"values":[-1,-0.5,0,0.5,1],"format":".1~f"}}}},{"transform":[{"filter":"datum.s"}],"mark":{"type":"text","fontSize":5.5},"encoding":{"x":{"field":"x","type":"ordinal"},"y":{"field":"y","type":"ordinal"},"text":{"field":"s"}}}]}],"spacing":0,"resolve":{"scale":{"color":"independent"}}},{"title":{"text":"(E) NEG *P < 0.05 **P < 0.01","dx":-73,"offset":14},"width":217,"height":234,"data":{"name":"e"},"layer":[{"mark":{"type":"rect","strokeWidth":0.9},"encoding":{"x":{"field":"x","type":"ordinal","scale":{"paddingInner":0,"paddingOuter":0},"axis":{"labelAngle":-45,"labelAlign":"right","labelBaseline":"middle","labelFontSize":3.8,"labelFontStyle":"italic","labelColor":"#555555","labelLimit":300,"labelExpr":"neg[datum.value]"}},"y":{"field":"y","type":"ordinal","scale":{"paddingInner":0,"paddingOuter":0},"axis":{"labelFontSize":3.8,"labelFontStyle":"italic","tickSize":2,"labelExpr":"tax[datum.value]"}},"color":{"field":"v","type":"quantitative","scale":{"domain":[-1,1],"scheme":"redblue"},"legend":{"legendX":236,"legendY":0,"gradientLength":82,"gradientThickness":9,"labelFontSize":6.5,"values":[-1,-0.5,0,0.5,1],"format":".1~f"}}}},{"transform":[{"filter":"datum.s"}],"mark":{"type":"text","fontSize":5.5},"encoding":{"x":{"field":"x","type":"ordinal"},"y":{"field":"y","type":"ordinal"},"text":{"field":"s"}}}]}],"spacing":20,"resolve":{"scale":{"color":"independent"}}}],"resolve":{"scale":{"color":"independent"}}}
